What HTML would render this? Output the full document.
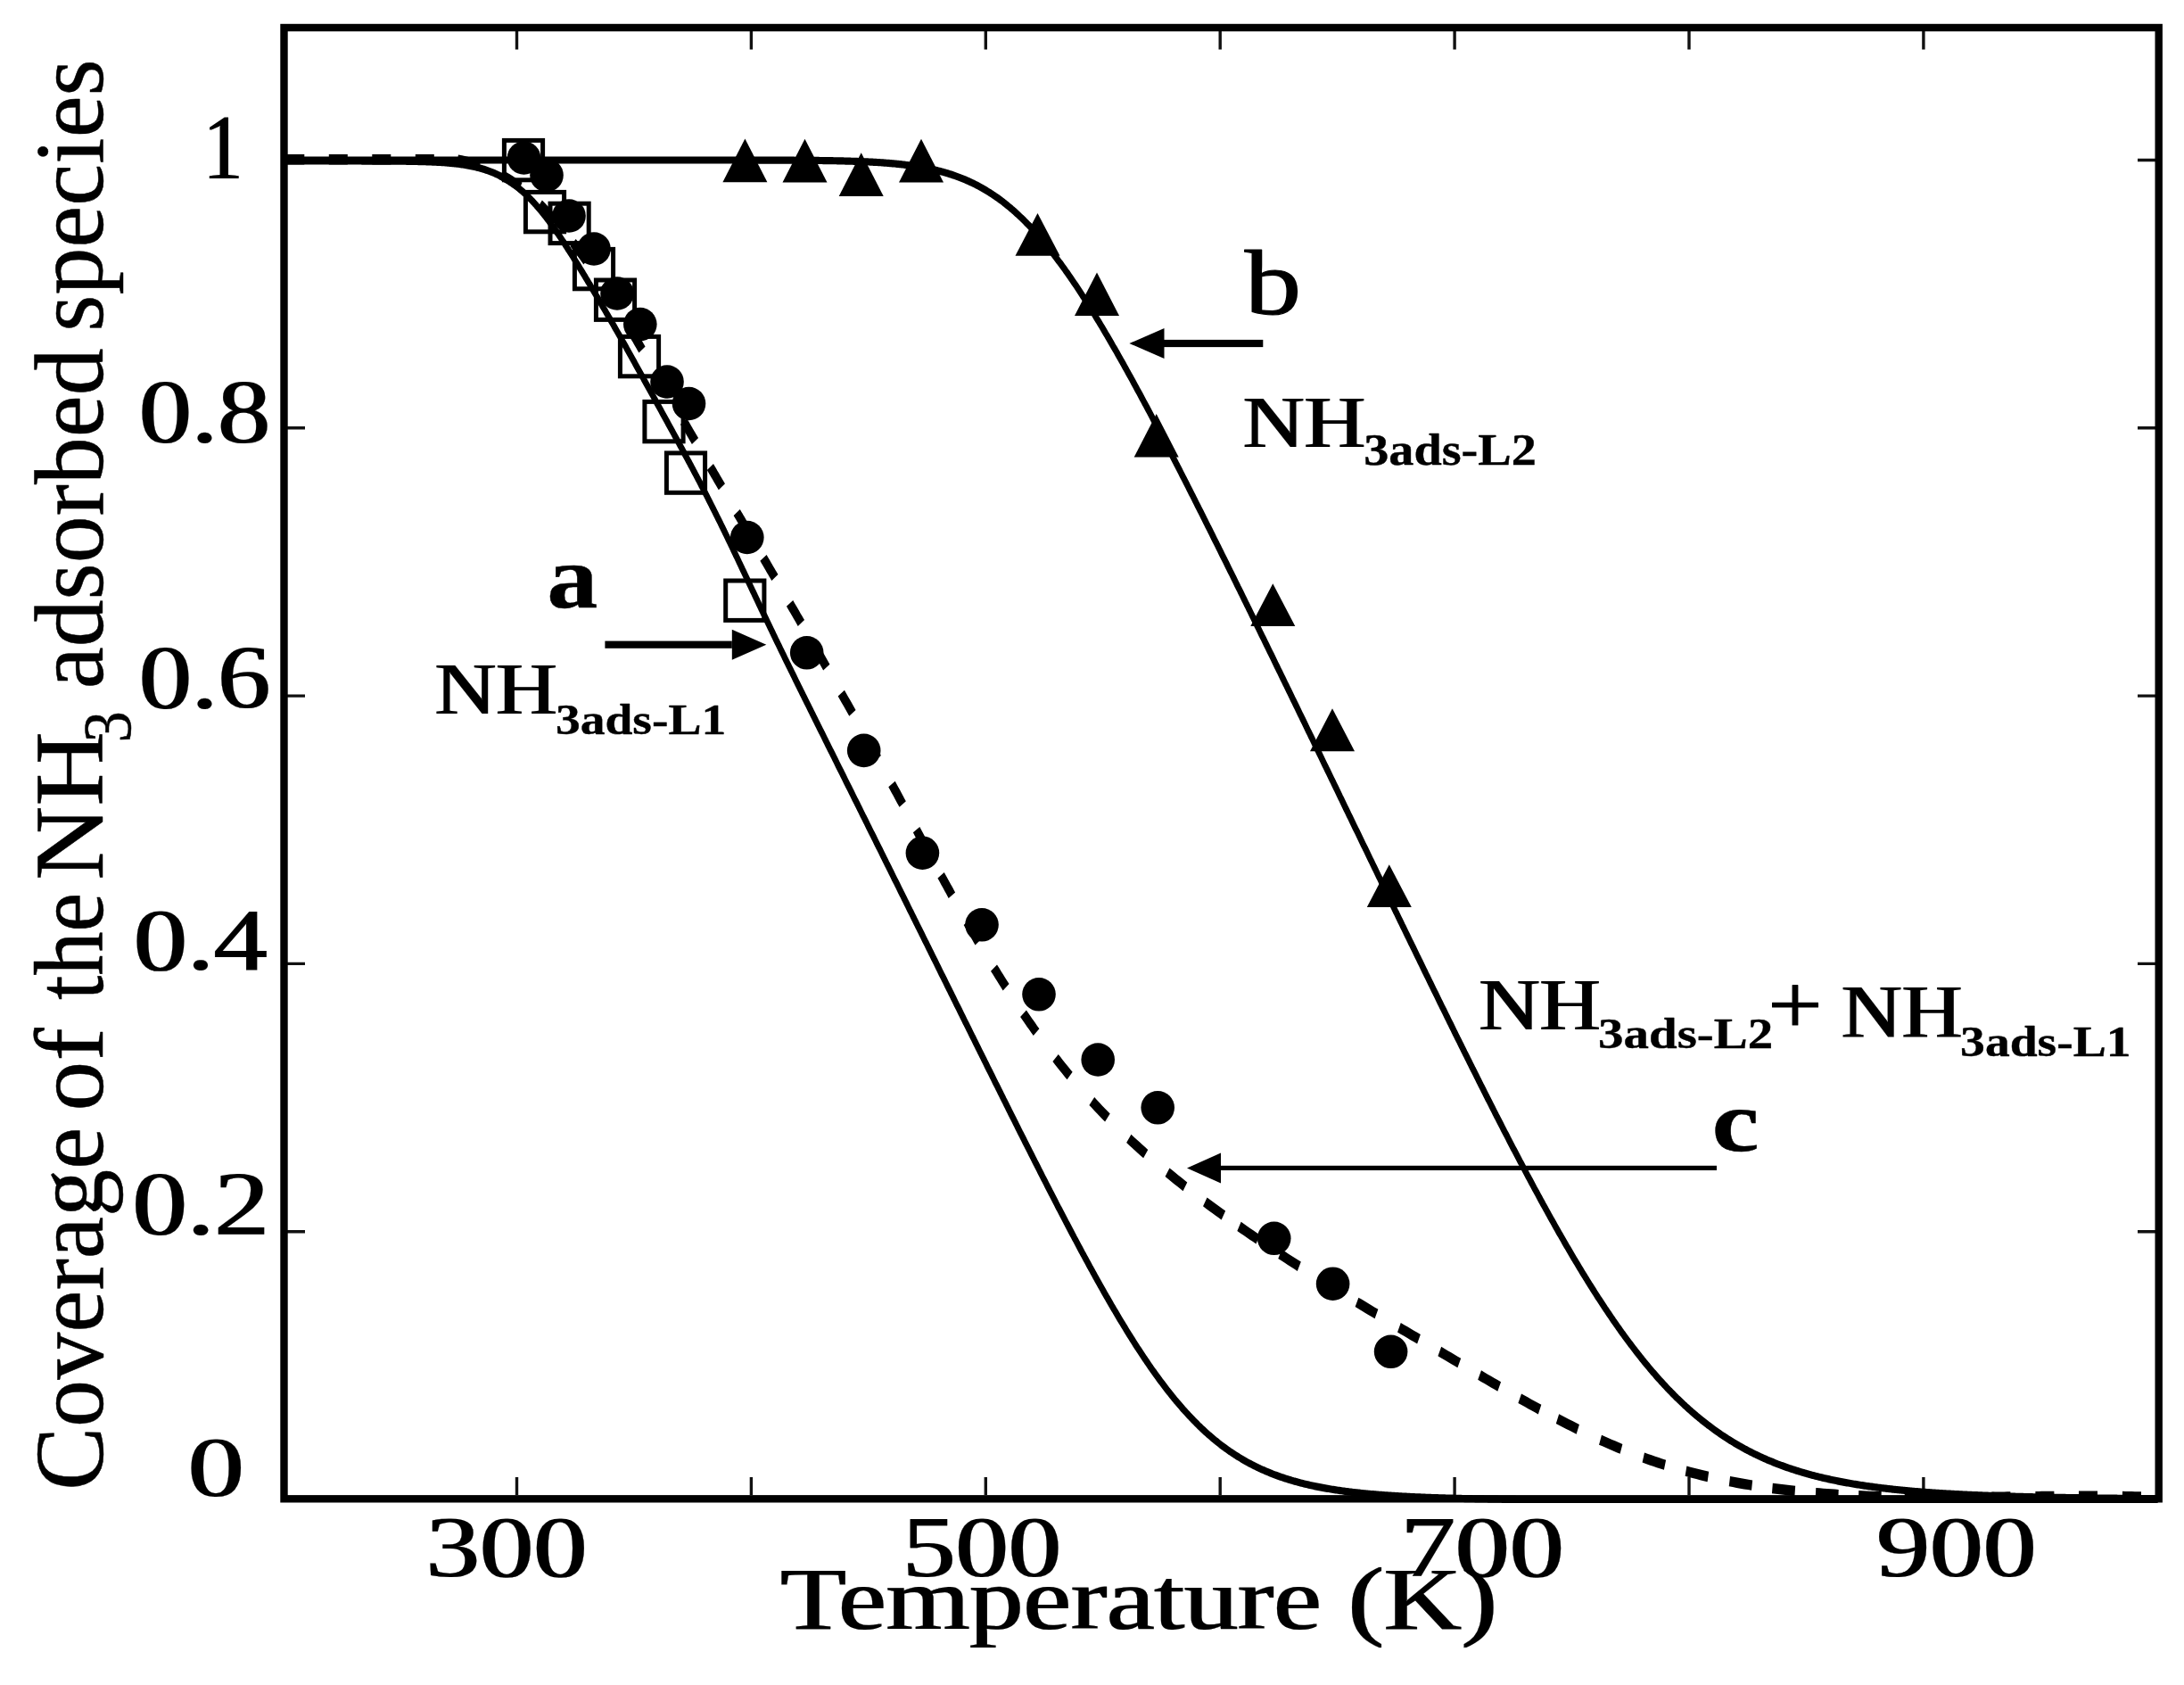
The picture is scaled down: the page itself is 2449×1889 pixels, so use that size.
<!DOCTYPE html>
<html><head><meta charset="utf-8"><title>Coverage of the NH3 adsorbed species</title>
<style>html,body{margin:0;padding:0;background:#fff}svg{display:block}</style></head>
<body>
<svg width="2449" height="1889" viewBox="0 0 2449 1889" font-family="'Liberation Serif', serif" fill="#000">
<rect width="2449" height="1889" fill="#fff"/>
<defs><clipPath id="fr"><rect x="318" y="30" width="2103" height="1655"/></clipPath><filter id="fh" x="-5%" y="-5%" width="110%" height="110%"><feMorphology operator="dilate" radius="1 0"/></filter></defs>
<path d="M579.5,35 v20.5 M579.5,1676 v-20 M842.4,35 v20.5 M842.4,1676 v-20 M1105.3,35 v20.5 M1105.3,1676 v-20 M1368.2,35 v20.5 M1368.2,1676 v-20 M1631.1,35 v20.5 M1631.1,1676 v-20 M1894.0,35 v20.5 M1894.0,1676 v-20 M2156.9,35 v20.5 M2156.9,1676 v-20 M322,1380.7 h20 M2417,1380.7 h-20 M322,1080.4 h20 M2417,1080.4 h-20 M322,780.1 h20 M2417,780.1 h-20 M322,479.8 h20 M2417,479.8 h-20 M322,179.5 h20 M2417,179.5 h-20" stroke="#111" stroke-width="3.4" fill="none"/>
<g clip-path="url(#fr)"><g transform="scale(1,1.28)" fill="none" stroke="#000" stroke-linejoin="round">
<path d="M317.9,141.02 L319.2,141.02 L320.6,141.02 L321.9,141.02 L323.2,141.02 L324.5,141.02 L325.8,141.02 L327.1,141.02 L328.5,141.02 L329.8,141.02 L331.1,141.02 L332.4,141.02 L333.7,141.02 L335.0,141.02 L336.3,141.02 L337.7,141.02 L339.0,141.02 L340.3,141.02 L341.6,141.02 L342.9,141.02 L344.2,141.02 L345.5,141.02 L346.9,141.02 L348.2,141.02 L349.5,141.02 L350.8,141.02 L352.1,141.02 L353.4,141.02 L354.8,141.02 L356.1,141.02 L357.4,141.02 L358.7,141.02 L360.0,141.02 L361.3,141.02 L362.6,141.02 L364.0,141.02 L365.3,141.02 L366.6,141.02 L367.9,141.02 L369.2,141.02 L370.5,141.02 L371.8,141.02 L373.2,141.02 L374.5,141.02 L375.8,141.02 L377.1,141.02 L378.4,141.02 L379.7,141.02 L381.1,141.02 L382.4,141.02 L383.7,141.02 L385.0,141.02 L386.3,141.02 L387.6,141.02 L388.9,141.02 L390.3,141.02 L391.6,141.02 L392.9,141.03 L394.2,141.03 L395.5,141.03 L396.8,141.03 L398.1,141.03 L399.5,141.03 L400.8,141.03 L402.1,141.03 L403.4,141.03 L404.7,141.03 L406.0,141.04 L407.4,141.04 L408.7,141.04 L410.0,141.04 L411.3,141.04 L412.6,141.04 L413.9,141.05 L415.2,141.05 L416.6,141.05 L417.9,141.05 L419.2,141.05 L420.5,141.06 L421.8,141.06 L423.1,141.06 L424.4,141.07 L425.8,141.07 L427.1,141.07 L428.4,141.08 L429.7,141.08 L431.0,141.09 L432.3,141.09 L433.7,141.10 L435.0,141.10 L436.3,141.11 L437.6,141.11 L438.9,141.12 L440.2,141.13 L441.5,141.13 L442.9,141.14 L444.2,141.15 L445.5,141.16 L446.8,141.17 L448.1,141.17 L449.4,141.18 L450.7,141.20 L452.1,141.21 L453.4,141.22 L454.7,141.23 L456.0,141.24 L457.3,141.26 L458.6,141.27 L459.9,141.29 L461.3,141.31 L462.6,141.32 L463.9,141.34 L465.2,141.36 L466.5,141.38 L467.8,141.40 L469.2,141.43 L470.5,141.45 L471.8,141.48 L473.1,141.51 L474.4,141.53 L475.7,141.56 L477.0,141.60 L478.4,141.63 L479.7,141.66 L481.0,141.70 L482.3,141.74 L483.6,141.78 L484.9,141.83 L486.2,141.87 L487.6,141.92 L488.9,141.97 L490.2,142.02 L491.5,142.08 L492.8,142.14 L494.1,142.20 L495.4,142.27 L496.8,142.33 L498.1,142.40 L499.4,142.48 L500.7,142.56 L502.0,142.64 L503.3,142.73 L504.6,142.82 L506.0,142.91 L507.3,143.01 L508.6,143.12 L509.9,143.23 L511.2,143.34 L512.5,143.46 L513.8,143.59 L515.1,143.72 L516.5,143.86 L517.8,144.00 L519.1,144.15 L520.4,144.31 L521.7,144.48 L523.0,144.65 L524.3,144.83 L525.6,145.01 L527.0,145.21 L528.3,145.41 L529.6,145.63 L530.9,145.85 L532.2,146.08 L533.5,146.32 L534.8,146.57 L536.1,146.83 L537.5,147.10 L538.8,147.38 L540.1,147.68 L541.4,147.98 L542.7,148.30 L544.0,148.63 L545.3,148.97 L546.6,149.32 L547.9,149.69 L549.2,150.07 L550.5,150.47 L551.9,150.88 L553.2,151.30 L554.5,151.74 L555.8,152.20 L557.1,152.67 L558.4,153.15 L559.7,153.66 L561.0,154.18 L562.3,154.71 L563.6,155.27 L564.9,155.84 L566.2,156.42 L567.5,157.03 L568.8,157.66 L570.1,158.30 L571.4,158.96 L572.7,159.64 L574.0,160.34 L575.3,161.06 L576.6,161.80 L577.9,162.56 L579.2,163.34 L580.5,164.14 L581.8,164.96 L583.1,165.80 L584.4,166.66 L585.7,167.54 L587.0,168.44 L588.3,169.36 L589.6,170.30 L590.9,171.26 L592.1,172.24 L593.4,173.25 L594.7,174.27 L596.0,175.31 L597.3,176.38 L598.6,177.46 L599.9,178.57 L601.2,179.69 L602.4,180.84 L603.7,182.00 L605.0,183.18 L606.3,184.39 L607.6,185.61 L608.8,186.85 L610.1,188.11 L611.4,189.38 L612.7,190.68 L614.0,191.99 L615.3,193.32 L616.5,194.67 L617.8,196.04 L619.1,197.42 L620.4,198.82 L621.7,200.24 L622.9,201.67 L624.2,203.12 L625.5,204.58 L626.8,206.06 L628.1,207.55 L629.4,209.06 L630.7,210.58 L632.0,212.11 L633.3,213.66 L634.5,215.22 L635.8,216.80 L637.1,218.39 L638.5,219.99 L639.8,221.60 L641.1,223.23 L642.4,224.86 L643.7,226.51 L645.0,228.17 L646.3,229.84 L647.7,231.52 L649.0,233.21 L650.3,234.90 L651.6,236.61 L653.0,238.33 L654.3,240.06 L655.7,241.80 L657.0,243.54 L658.4,245.29 L659.7,247.06 L661.1,248.83 L662.4,250.60 L663.8,252.39 L665.1,254.18 L666.5,255.98 L667.9,257.78 L669.2,259.60 L670.6,261.41 L672.0,263.24 L673.4,265.07 L674.7,266.91 L676.1,268.75 L677.5,270.60 L678.9,272.45 L680.2,274.31 L681.6,276.18 L683.0,278.05 L684.4,279.92 L685.8,281.80 L687.2,283.68 L688.5,285.57 L689.9,287.46 L691.3,289.36 L692.7,291.26 L694.1,293.16 L695.5,295.07 L696.8,296.98 L698.2,298.89 L699.6,300.81 L701.0,302.73 L702.4,304.66 L703.7,306.59 L705.1,308.52 L706.5,310.45 L707.9,312.39 L709.3,314.33 L710.7,316.27 L712.0,318.21 L713.4,320.16 L714.8,322.11 L716.2,324.07 L717.6,326.02 L719.0,327.98 L720.4,329.94 L721.7,331.90 L723.1,333.86 L724.5,335.83 L725.9,337.79 L727.3,339.76 L728.7,341.74 L730.1,343.71 L731.5,345.68 L732.9,347.66 L734.3,349.64 L735.6,351.62 L737.0,353.60 L738.4,355.58 L739.8,357.57 L741.2,359.55 L742.6,361.54 L744.0,363.53 L745.4,365.52 L746.8,367.51 L748.2,369.51 L749.6,371.50 L751.0,373.49 L752.4,375.49 L753.8,377.49 L755.2,379.49 L756.6,381.49 L758.0,383.49 L759.4,385.49 L760.8,387.49 L762.2,389.50 L763.6,391.50 L765.0,393.51 L766.4,395.52 L767.7,397.52 L769.1,399.53 L770.5,401.54 L771.9,403.55 L773.3,405.57 L774.6,407.58 L776.0,409.59 L777.4,411.60 L778.7,413.62 L780.1,415.63 L781.5,417.65 L782.8,419.67 L784.2,421.69 L785.5,423.70 L786.8,425.72 L788.2,427.74 L789.5,429.76 L790.8,431.78 L792.2,433.81 L793.5,435.83 L794.8,437.85 L796.1,439.87 L797.4,441.90 L798.7,443.92 L800.0,445.95 L801.3,447.97 L802.6,450.00 L803.9,452.03 L805.2,454.05 L806.5,456.08 L807.8,458.11 L809.0,460.14 L810.3,462.17 L811.6,464.20 L812.8,466.23 L814.1,468.26 L815.4,470.29 L816.6,472.32 L817.9,474.36 L819.1,476.39 L820.4,478.42 L821.6,480.46 L822.8,482.49 L824.1,484.53 L825.3,486.56 L826.6,488.60 L827.8,490.63 L829.0,492.67 L830.3,494.70 L831.5,496.74 L832.7,498.78 L834.0,500.82 L835.2,502.86 L836.4,504.89 L837.7,506.93 L838.9,508.97 L840.1,511.01 L841.4,513.05 L842.6,515.09 L843.8,517.13 L845.1,519.17 L846.3,521.22 L847.5,523.26 L848.8,525.30 L850.0,527.34 L851.2,529.39 L852.5,531.43 L853.7,533.47 L855.0,535.52 L856.2,537.56 L857.5,539.61 L858.7,541.65 L860.0,543.70 L861.2,545.74 L862.5,547.79 L863.7,549.84 L865.0,551.88 L866.3,553.93 L867.5,555.98 L868.8,558.02 L870.0,560.07 L871.3,562.12 L872.6,564.17 L873.9,566.22 L875.1,568.27 L876.4,570.32 L877.7,572.36 L879.0,574.41 L880.2,576.47 L881.5,578.52 L882.8,580.57 L884.1,582.62 L885.4,584.67 L886.7,586.72 L888.0,588.77 L889.3,590.83 L890.6,592.88 L891.8,594.93 L893.1,596.98 L894.4,599.04 L895.7,601.09 L897.0,603.14 L898.3,605.20 L899.6,607.25 L900.9,609.31 L902.2,611.36 L903.5,613.42 L904.8,615.47 L906.2,617.53 L907.5,619.59 L908.8,621.64 L910.1,623.70 L911.4,625.76 L912.7,627.81 L914.0,629.87 L915.3,631.93 L916.6,633.98 L917.9,636.04 L919.2,638.10 L920.5,640.16 L921.9,642.22 L923.2,644.28 L924.5,646.34 L925.8,648.40 L927.1,650.46 L928.4,652.52 L929.7,654.58 L931.0,656.64 L932.4,658.70 L933.7,660.76 L935.0,662.82 L936.3,664.88 L937.6,666.94 L938.9,669.01 L940.2,671.07 L941.5,673.13 L942.9,675.19 L944.2,677.26 L945.5,679.32 L946.8,681.38 L948.1,683.45 L949.4,685.51 L950.7,687.57 L952.1,689.64 L953.4,691.70 L954.7,693.77 L956.0,695.83 L957.3,697.90 L958.6,699.96 L960.0,702.03 L961.3,704.10 L962.6,706.16 L963.9,708.23 L965.2,710.29 L966.5,712.36 L967.8,714.43 L969.2,716.49 L970.5,718.56 L971.8,720.63 L973.1,722.70 L974.4,724.77 L975.7,726.83 L977.0,728.90 L978.4,730.97 L979.7,733.04 L981.0,735.11 L982.3,737.18 L983.6,739.25 L984.9,741.32 L986.3,743.39 L987.6,745.46 L988.9,747.53 L990.2,749.60 L991.5,751.67 L992.8,753.74 L994.1,755.81 L995.5,757.88 L996.8,759.95 L998.1,762.02 L999.4,764.09 L1000.7,766.16 L1002.0,768.24 L1003.3,770.31 L1004.7,772.38 L1006.0,774.45 L1007.3,776.52 L1008.6,778.60 L1009.9,780.67 L1011.2,782.74 L1012.6,784.82 L1013.9,786.89 L1015.2,788.96 L1016.5,791.04 L1017.8,793.11 L1019.1,795.18 L1020.4,797.26 L1021.8,799.33 L1023.1,801.41 L1024.4,803.48 L1025.7,805.55 L1027.0,807.63 L1028.3,809.70 L1029.6,811.78 L1031.0,813.85 L1032.3,815.93 L1033.6,818.00 L1034.9,820.08 L1036.2,822.15 L1037.5,824.23 L1038.9,826.30 L1040.2,828.38 L1041.5,830.45 L1042.8,832.53 L1044.1,834.60 L1045.4,836.68 L1046.7,838.76 L1048.1,840.83 L1049.4,842.91 L1050.7,844.98 L1052.0,847.06 L1053.3,849.13 L1054.6,851.21 L1055.9,853.28 L1057.3,855.36 L1058.6,857.44 L1059.9,859.51 L1061.2,861.59 L1062.5,863.66 L1063.8,865.74 L1065.2,867.81 L1066.5,869.89 L1067.8,871.96 L1069.1,874.04 L1070.4,876.11 L1071.7,878.19 L1073.0,880.26 L1074.4,882.34 L1075.7,884.41 L1077.0,886.49 L1078.3,888.56 L1079.6,890.64 L1080.9,892.71 L1082.2,894.79 L1083.6,896.86 L1084.9,898.93 L1086.2,901.01 L1087.5,903.08 L1088.8,905.15 L1090.1,907.23 L1091.5,909.30 L1092.8,911.37 L1094.1,913.44 L1095.4,915.51 L1096.7,917.58 L1098.0,919.65 L1099.3,921.73 L1100.7,923.80 L1102.0,925.87 L1103.3,927.93 L1104.6,930.00 L1105.9,932.07 L1107.2,934.14 L1108.5,936.21 L1109.9,938.27 L1111.2,940.34 L1112.5,942.41 L1113.8,944.47 L1115.1,946.54 L1116.4,948.60 L1117.8,950.67 L1119.1,952.73 L1120.4,954.79 L1121.7,956.85 L1123.0,958.91 L1124.3,960.97 L1125.6,963.03 L1127.0,965.09 L1128.3,967.15 L1129.6,969.21 L1130.9,971.26 L1132.2,973.32 L1133.5,975.37 L1134.8,977.43 L1136.2,979.48 L1137.5,981.53 L1138.8,983.58 L1140.1,985.63 L1141.4,987.68 L1142.7,989.73 L1144.0,991.77 L1145.4,993.82 L1146.7,995.86 L1148.0,997.90 L1149.3,999.95 L1150.6,1001.99 L1151.9,1004.02 L1153.3,1006.06 L1154.6,1008.10 L1155.9,1010.13 L1157.2,1012.16 L1158.5,1014.19 L1159.8,1016.22 L1161.1,1018.25 L1162.5,1020.27 L1163.8,1022.30 L1165.1,1024.32 L1166.4,1026.34 L1167.7,1028.36 L1169.0,1030.38 L1170.3,1032.39 L1171.7,1034.40 L1173.0,1036.41 L1174.3,1038.42 L1175.6,1040.43 L1176.9,1042.43 L1178.2,1044.43 L1179.6,1046.43 L1180.9,1048.42 L1182.2,1050.42 L1183.5,1052.41 L1184.8,1054.40 L1186.1,1056.38 L1187.4,1058.36 L1188.8,1060.34 L1190.1,1062.32 L1191.4,1064.29 L1192.7,1066.27 L1194.0,1068.23 L1195.3,1070.20 L1196.7,1072.16 L1198.0,1074.12 L1199.3,1076.07 L1200.6,1078.02 L1201.9,1079.97 L1203.2,1081.91 L1204.5,1083.85 L1205.9,1085.79 L1207.2,1087.72 L1208.5,1089.65 L1209.8,1091.57 L1211.1,1093.49 L1212.4,1095.41 L1213.7,1097.32 L1215.1,1099.22 L1216.4,1101.13 L1217.7,1103.02 L1219.0,1104.92 L1220.3,1106.80 L1221.6,1108.69 L1222.9,1110.56 L1224.3,1112.44 L1225.6,1114.31 L1226.9,1116.17 L1228.2,1118.02 L1229.5,1119.88 L1230.8,1121.72 L1232.2,1123.56 L1233.5,1125.40 L1234.8,1127.23 L1236.1,1129.05 L1237.4,1130.86 L1238.7,1132.67 L1240.0,1134.48 L1241.4,1136.27 L1242.7,1138.07 L1244.0,1139.85 L1245.3,1141.63 L1246.6,1143.40 L1247.9,1145.16 L1249.2,1146.92 L1250.6,1148.67 L1251.9,1150.41 L1253.2,1152.14 L1254.5,1153.87 L1255.8,1155.59 L1257.1,1157.30 L1258.5,1159.00 L1259.8,1160.70 L1261.1,1162.39 L1262.4,1164.07 L1263.7,1165.74 L1265.0,1167.40 L1266.3,1169.05 L1267.7,1170.70 L1269.0,1172.33 L1270.3,1173.96 L1271.6,1175.58 L1272.9,1177.19 L1274.2,1178.79 L1275.5,1180.38 L1276.9,1181.96 L1278.2,1183.54 L1279.5,1185.10 L1280.8,1186.65 L1282.1,1188.20 L1283.4,1189.73 L1284.8,1191.25 L1286.1,1192.77 L1287.4,1194.27 L1288.7,1195.76 L1290.0,1197.24 L1291.3,1198.72 L1292.6,1200.18 L1294.0,1201.63 L1295.3,1203.07 L1296.6,1204.50 L1297.9,1205.92 L1299.2,1207.32 L1300.5,1208.72 L1301.8,1210.11 L1303.2,1211.48 L1304.5,1212.84 L1305.8,1214.20 L1307.1,1215.54 L1308.4,1216.87 L1309.7,1218.18 L1311.1,1219.49 L1312.4,1220.79 L1313.7,1222.07 L1315.0,1223.34 L1316.3,1224.60 L1317.6,1225.85 L1318.9,1227.09 L1320.3,1228.31 L1321.6,1229.52 L1322.9,1230.72 L1324.2,1231.91 L1325.5,1233.09 L1326.8,1234.26 L1328.2,1235.41 L1329.5,1236.55 L1330.8,1237.68 L1332.1,1238.80 L1333.4,1239.91 L1334.7,1241.00 L1336.0,1242.08 L1337.4,1243.15 L1338.7,1244.21 L1340.0,1245.26 L1341.3,1246.29 L1342.6,1247.32 L1343.9,1248.33 L1345.2,1249.33 L1346.6,1250.31 L1347.9,1251.29 L1349.2,1252.25 L1350.5,1253.21 L1351.8,1254.15 L1353.1,1255.08 L1354.4,1256.00 L1355.8,1256.90 L1357.1,1257.80 L1358.4,1258.68 L1359.7,1259.55 L1361.0,1260.41 L1362.3,1261.26 L1363.7,1262.10 L1365.0,1262.93 L1366.3,1263.75 L1367.6,1264.55 L1368.9,1265.35 L1370.2,1266.13 L1371.5,1266.90 L1372.9,1267.67 L1374.2,1268.42 L1375.5,1269.16 L1376.8,1269.89 L1378.1,1270.61 L1379.4,1271.32 L1380.8,1272.02 L1382.1,1272.71 L1383.4,1273.39 L1384.7,1274.06 L1386.0,1274.72 L1387.3,1275.37 L1388.6,1276.01 L1390.0,1276.65 L1391.3,1277.27 L1392.6,1277.88 L1393.9,1278.48 L1395.2,1279.08 L1396.5,1279.66 L1397.8,1280.24 L1399.2,1280.81 L1400.5,1281.37 L1401.8,1281.92 L1403.1,1282.46 L1404.4,1282.99 L1405.7,1283.52 L1407.1,1284.03 L1408.4,1284.54 L1409.7,1285.04 L1411.0,1285.54 L1412.3,1286.02 L1413.6,1286.50 L1414.9,1286.97 L1416.3,1287.43 L1417.6,1287.88 L1418.9,1288.33 L1420.2,1288.77 L1421.5,1289.20 L1422.8,1289.62 L1424.1,1290.04 L1425.5,1290.45 L1426.8,1290.86 L1428.1,1291.25 L1429.4,1291.65 L1430.7,1292.03 L1432.0,1292.41 L1433.3,1292.78 L1434.7,1293.15 L1436.0,1293.50 L1437.3,1293.86 L1438.6,1294.20 L1439.9,1294.55 L1441.2,1294.88 L1442.6,1295.21 L1443.9,1295.54 L1445.2,1295.85 L1446.5,1296.17 L1447.8,1296.48 L1449.1,1296.78 L1450.4,1297.08 L1451.8,1297.37 L1453.1,1297.66 L1454.4,1297.94 L1455.7,1298.22 L1457.0,1298.49 L1458.3,1298.76 L1459.7,1299.02 L1461.0,1299.28 L1462.3,1299.53 L1463.6,1299.78 L1464.9,1300.03 L1466.2,1300.27 L1467.5,1300.51 L1468.9,1300.74 L1470.2,1300.97 L1471.5,1301.19 L1472.8,1301.41 L1474.1,1301.63 L1475.4,1301.84 L1476.7,1302.05 L1478.1,1302.26 L1479.4,1302.46 L1480.7,1302.66 L1482.0,1302.85 L1483.3,1303.05 L1484.6,1303.23 L1485.9,1303.42 L1487.3,1303.60 L1488.6,1303.78 L1489.9,1303.95 L1491.2,1304.13 L1492.5,1304.30 L1493.8,1304.46 L1495.2,1304.63 L1496.5,1304.79 L1497.8,1304.94 L1499.1,1305.10 L1500.4,1305.25 L1501.7,1305.40 L1503.0,1305.55 L1504.4,1305.69 L1505.7,1305.83 L1507.0,1305.97 L1508.3,1306.11 L1509.6,1306.24 L1510.9,1306.37 L1512.2,1306.50 L1513.6,1306.63 L1514.9,1306.76 L1516.2,1306.88 L1517.5,1307.00 L1518.8,1307.12 L1520.1,1307.23 L1521.5,1307.35 L1522.8,1307.46 L1524.1,1307.57 L1525.4,1307.68 L1526.7,1307.79 L1528.0,1307.89 L1529.3,1307.99 L1530.7,1308.09 L1532.0,1308.19 L1533.3,1308.29 L1534.6,1308.39 L1535.9,1308.48 L1537.2,1308.57 L1538.6,1308.66 L1539.9,1308.75 L1541.2,1308.84 L1542.5,1308.93 L1543.8,1309.01 L1545.1,1309.10 L1546.4,1309.18 L1547.8,1309.26 L1549.1,1309.34 L1550.4,1309.41 L1551.7,1309.49 L1553.0,1309.56 L1554.3,1309.64 L1555.6,1309.71 L1557.0,1309.78 L1558.3,1309.85 L1559.6,1309.92 L1560.9,1309.99 L1562.2,1310.05 L1563.5,1310.12 L1564.8,1310.18 L1566.2,1310.24 L1567.5,1310.31 L1568.8,1310.37 L1570.1,1310.43 L1571.4,1310.49 L1572.7,1310.54 L1574.1,1310.60 L1575.4,1310.66 L1576.7,1310.71 L1578.0,1310.76 L1579.3,1310.82 L1580.6,1310.87 L1581.9,1310.92 L1583.3,1310.97 L1584.6,1311.02 L1585.9,1311.07 L1587.2,1311.11 L1588.5,1311.16 L1589.8,1311.21 L1591.2,1311.25 L1592.5,1311.30 L1593.8,1311.34 L1595.1,1311.38 L1596.4,1311.43 L1597.7,1311.47 L1599.0,1311.51 L1600.4,1311.55 L1601.7,1311.59 L1603.0,1311.63 L1604.3,1311.66 L1605.6,1311.70 L1606.9,1311.74 L1608.2,1311.78 L1609.6,1311.81 L1610.9,1311.85 L1612.2,1311.88 L1613.5,1311.91 L1614.8,1311.95 L1616.1,1311.98 L1617.4,1312.01 L1618.8,1312.04 L1620.1,1312.08 L1621.4,1312.11 L1622.7,1312.14 L1624.0,1312.17 L1625.3,1312.19 L1626.7,1312.22 L1628.0,1312.25 L1629.3,1312.28 L1630.6,1312.31 L1631.9,1312.33 L1633.2,1312.36 L1634.5,1312.39 L1635.9,1312.41 L1637.2,1312.44 L1638.5,1312.46 L1639.8,1312.48 L1641.1,1312.51 L1642.4,1312.53 L1643.8,1312.56 L1645.1,1312.58 L1646.4,1312.60 L1647.7,1312.62 L1649.0,1312.64 L1650.3,1312.67 L1651.6,1312.69 L1653.0,1312.71 L1654.3,1312.73 L1655.6,1312.75 L1656.9,1312.77 L1658.2,1312.79 L1659.5,1312.80 L1660.8,1312.82 L1662.2,1312.84 L1663.5,1312.86 L1664.8,1312.88 L1666.1,1312.90 L1667.4,1312.91 L1668.7,1312.93 L1670.1,1312.95 L1671.4,1312.96 L1672.7,1312.98 L1674.0,1312.99 L1675.3,1313.01 L1676.6,1313.03 L1677.9,1313.04 L1679.3,1313.06 L1680.6,1313.07 L1681.9,1313.08 L1683.2,1313.10 L1684.5,1313.11 L1685.8,1313.13 L1687.1,1313.14 L1688.5,1313.15 L1689.8,1313.17 L1691.1,1313.18 L1692.4,1313.19 L1693.7,1313.20 L1695.0,1313.22 L1696.3,1313.23 L1697.7,1313.24 L1699.0,1313.25 L1700.3,1313.26 L1701.6,1313.28 L1702.9,1313.29 L1704.2,1313.30 L1705.6,1313.31 L1706.9,1313.32 L1708.2,1313.33 L1709.5,1313.34 L1710.8,1313.35 L1712.1,1313.36 L1713.4,1313.37 L1714.8,1313.38 L1716.1,1313.39 L1717.4,1313.40 L1718.7,1313.41 L1720.0,1313.42 L1721.3,1313.43 L1722.7,1313.44 L1724.0,1313.44 L1725.3,1313.45 L1726.6,1313.46 L1727.9,1313.47 L1729.2,1313.48 L1730.5,1313.49 L1731.9,1313.49 L1733.2,1313.50 L1734.5,1313.51 L1735.8,1313.52 L1737.1,1313.53 L1738.4,1313.53 L1739.7,1313.54 L1741.1,1313.55 L1742.4,1313.55 L1743.7,1313.56 L1745.0,1313.57 L1746.3,1313.57 L1747.6,1313.58 L1748.9,1313.59 L1750.3,1313.59 L1751.6,1313.60 L1752.9,1313.61 L1754.2,1313.61 L1755.5,1313.62 L1756.8,1313.63 L1758.2,1313.63 L1759.5,1313.64 L1760.8,1313.64 L1762.1,1313.65 L1763.4,1313.65 L1764.7,1313.66 L1766.0,1313.66 L1767.4,1313.67 L1768.7,1313.68 L1770.0,1313.68 L1771.3,1313.69 L1772.6,1313.69 L1773.9,1313.70 L1775.2,1313.70 L1776.6,1313.71 L1777.9,1313.71 L1779.2,1313.71 L1780.5,1313.72 L1781.8,1313.72 L1783.1,1313.73 L1784.5,1313.73 L1785.8,1313.74 L1787.1,1313.74 L1788.4,1313.75 L1789.7,1313.75 L1791.0,1313.75 L1792.3,1313.76 L1793.7,1313.76 L1795.0,1313.77 L1796.3,1313.77 L1797.6,1313.77 L1798.9,1313.78 L1800.2,1313.78 L1801.6,1313.78 L1802.9,1313.79 L1804.2,1313.79 L1805.5,1313.80 L1806.8,1313.80 L1808.1,1313.80 L1809.4,1313.81 L1810.8,1313.81 L1812.1,1313.81 L1813.4,1313.82 L1814.7,1313.82 L1816.0,1313.82 L1817.3,1313.82 L1818.6,1313.83 L1820.0,1313.83 L1821.3,1313.83 L1822.6,1313.84 L1823.9,1313.84 L1825.2,1313.84 L1826.5,1313.84 L1827.8,1313.85 L1829.2,1313.85 L1830.5,1313.85 L1831.8,1313.86 L1833.1,1313.86 L1834.4,1313.86 L1835.7,1313.86 L1837.1,1313.87 L1838.4,1313.87 L1839.7,1313.87 L1841.0,1313.87 L1842.3,1313.88 L1843.6,1313.88 L1844.9,1313.88 L1846.3,1313.88 L1847.6,1313.88 L1848.9,1313.89 L1850.2,1313.89 L1851.5,1313.89 L1852.8,1313.89 L1854.2,1313.90 L1855.5,1313.90 L1856.8,1313.90 L1858.1,1313.90 L1859.4,1313.90 L1860.7,1313.91 L1862.0,1313.91 L1863.4,1313.91 L1864.7,1313.91 L1866.0,1313.91 L1867.3,1313.91 L1868.6,1313.92 L1869.9,1313.92 L1871.2,1313.92 L1872.6,1313.92 L1873.9,1313.92 L1875.2,1313.93 L1876.5,1313.93 L1877.8,1313.93 L1879.1,1313.93 L1880.4,1313.93 L1881.8,1313.93 L1883.1,1313.93 L1884.4,1313.94 L1885.7,1313.94 L1887.0,1313.94 L1888.3,1313.94 L1889.7,1313.94 L1891.0,1313.94 L1892.3,1313.95 L1893.6,1313.95 L1894.9,1313.95 L1896.2,1313.95 L1897.5,1313.95 L1898.9,1313.95 L1900.2,1313.95 L1901.5,1313.95 L1902.8,1313.96 L1904.1,1313.96 L1905.4,1313.96 L1906.8,1313.96 L1908.1,1313.96 L1909.4,1313.96 L1910.7,1313.96 L1912.0,1313.96 L1913.3,1313.97 L1914.6,1313.97 L1916.0,1313.97 L1917.3,1313.97 L1918.6,1313.97 L1919.9,1313.97 L1921.2,1313.97 L1922.5,1313.97 L1923.8,1313.97 L1925.2,1313.98 L1926.5,1313.98 L1927.8,1313.98 L1929.1,1313.98 L1930.4,1313.98 L1931.7,1313.98 L1933.1,1313.98 L1934.4,1313.98 L1935.7,1313.98 L1937.0,1313.98 L1938.3,1313.98 L1939.6,1313.99 L1940.9,1313.99 L1942.3,1313.99 L1943.6,1313.99 L1944.9,1313.99 L1946.2,1313.99 L1947.5,1313.99 L1948.8,1313.99 L1950.1,1313.99 L1951.5,1313.99 L1952.8,1313.99 L1954.1,1313.99 L1955.4,1314.00 L1956.7,1314.00 L1958.0,1314.00 L1959.3,1314.00 L1960.7,1314.00 L1962.0,1314.00 L1963.3,1314.00 L1964.6,1314.00 L1965.9,1314.00 L1967.2,1314.00 L1968.6,1314.00 L1969.9,1314.00 L1971.2,1314.00 L1972.5,1314.00 L1973.8,1314.01 L1975.1,1314.01 L1976.4,1314.01 L1977.8,1314.01 L1979.1,1314.01 L1980.4,1314.01 L1981.7,1314.01 L1983.0,1314.01 L1984.3,1314.01 L1985.7,1314.01 L1987.0,1314.01 L1988.3,1314.01 L1989.6,1314.01 L1990.9,1314.01 L1992.2,1314.01 L1993.5,1314.01 L1994.9,1314.01 L1996.2,1314.02 L1997.5,1314.02 L1998.8,1314.02 L2000.1,1314.02 L2001.4,1314.02 L2002.7,1314.02 L2004.1,1314.02 L2005.4,1314.02 L2006.7,1314.02 L2008.0,1314.02 L2009.3,1314.02 L2010.6,1314.02 L2011.9,1314.02 L2013.3,1314.02 L2014.6,1314.02 L2015.9,1314.02 L2017.2,1314.02 L2018.5,1314.02 L2019.8,1314.02 L2021.2,1314.02 L2022.5,1314.02 L2023.8,1314.02 L2025.1,1314.03 L2026.4,1314.03 L2027.7,1314.03 L2029.0,1314.03 L2030.4,1314.03 L2031.7,1314.03 L2033.0,1314.03 L2034.3,1314.03 L2035.6,1314.03 L2036.9,1314.03 L2038.2,1314.03 L2039.6,1314.03 L2040.9,1314.03 L2042.2,1314.03 L2043.5,1314.03 L2044.8,1314.03 L2046.1,1314.03 L2047.5,1314.03 L2048.8,1314.03 L2050.1,1314.03 L2051.4,1314.03 L2052.7,1314.03 L2054.0,1314.03 L2055.3,1314.03 L2056.7,1314.03 L2058.0,1314.03 L2059.3,1314.03 L2060.6,1314.03 L2061.9,1314.03 L2063.2,1314.03 L2064.5,1314.04 L2065.9,1314.04 L2067.2,1314.04 L2068.5,1314.04 L2069.8,1314.04 L2071.1,1314.04 L2072.4,1314.04 L2073.8,1314.04 L2075.1,1314.04 L2076.4,1314.04 L2077.7,1314.04 L2079.0,1314.04 L2080.3,1314.04 L2081.6,1314.04 L2083.0,1314.04 L2084.3,1314.04 L2085.6,1314.04 L2086.9,1314.04 L2088.2,1314.04 L2089.5,1314.04 L2090.8,1314.04 L2092.2,1314.04 L2093.5,1314.04 L2094.8,1314.04 L2096.1,1314.04 L2097.4,1314.04 L2098.7,1314.04 L2100.1,1314.04 L2101.4,1314.04 L2102.7,1314.04 L2104.0,1314.04 L2105.3,1314.04 L2106.6,1314.04 L2107.9,1314.04 L2109.3,1314.04 L2110.6,1314.04 L2111.9,1314.04 L2113.2,1314.04 L2114.5,1314.04 L2115.8,1314.04 L2117.2,1314.04 L2118.5,1314.04 L2119.8,1314.04 L2121.1,1314.04 L2122.4,1314.04 L2123.7,1314.05 L2125.0,1314.05 L2126.4,1314.05 L2127.7,1314.05 L2129.0,1314.05 L2130.3,1314.05 L2131.6,1314.05 L2132.9,1314.05 L2134.2,1314.05 L2135.6,1314.05 L2136.9,1314.05 L2138.2,1314.05 L2139.5,1314.05 L2140.8,1314.05 L2142.1,1314.05 L2143.4,1314.05 L2144.8,1314.05 L2146.1,1314.05 L2147.4,1314.05 L2148.7,1314.05 L2150.0,1314.05 L2151.3,1314.05 L2152.7,1314.05 L2154.0,1314.05 L2155.3,1314.05 L2156.6,1314.05 L2157.9,1314.05 L2159.2,1314.05 L2160.5,1314.05 L2161.9,1314.05 L2163.2,1314.05 L2164.5,1314.05 L2165.8,1314.05 L2167.1,1314.05 L2168.4,1314.05 L2169.8,1314.05 L2171.1,1314.05 L2172.4,1314.05 L2173.7,1314.05 L2175.0,1314.05 L2176.3,1314.05 L2177.6,1314.05 L2179.0,1314.05 L2180.3,1314.05 L2181.6,1314.05 L2182.9,1314.05 L2184.2,1314.05 L2185.5,1314.05 L2186.8,1314.05 L2188.2,1314.05 L2189.5,1314.05 L2190.8,1314.05 L2192.1,1314.05 L2193.4,1314.05 L2194.7,1314.05 L2196.0,1314.05 L2197.4,1314.05 L2198.7,1314.05 L2200.0,1314.05 L2201.3,1314.05 L2202.6,1314.05 L2203.9,1314.05 L2205.3,1314.05 L2206.6,1314.05 L2207.9,1314.05 L2209.2,1314.05 L2210.5,1314.05 L2211.8,1314.05 L2213.1,1314.05 L2214.5,1314.05 L2215.8,1314.05 L2217.1,1314.05 L2218.4,1314.05 L2219.7,1314.05 L2221.0,1314.05 L2222.3,1314.05 L2223.7,1314.05 L2225.0,1314.05 L2226.3,1314.05 L2227.6,1314.05 L2228.9,1314.05 L2230.2,1314.05 L2231.6,1314.05 L2232.9,1314.05 L2234.2,1314.05 L2235.5,1314.05 L2236.8,1314.05 L2238.1,1314.05 L2239.4,1314.05 L2240.8,1314.05 L2242.1,1314.06 L2243.4,1314.06 L2244.7,1314.06 L2246.0,1314.06 L2247.3,1314.06 L2248.7,1314.06 L2250.0,1314.06 L2251.3,1314.06 L2252.6,1314.06 L2253.9,1314.06 L2255.2,1314.06 L2256.5,1314.06 L2257.9,1314.06 L2259.2,1314.06 L2260.5,1314.06 L2261.8,1314.06 L2263.1,1314.06 L2264.4,1314.06 L2265.7,1314.06 L2267.1,1314.06 L2268.4,1314.06 L2269.7,1314.06 L2271.0,1314.06 L2272.3,1314.06 L2273.6,1314.06 L2274.9,1314.06 L2276.3,1314.06 L2277.6,1314.06 L2278.9,1314.06 L2280.2,1314.06 L2281.5,1314.06 L2282.8,1314.06 L2284.2,1314.06 L2285.5,1314.06 L2286.8,1314.06 L2288.1,1314.06 L2289.4,1314.06 L2290.7,1314.06 L2292.0,1314.06 L2293.4,1314.06 L2294.7,1314.06 L2296.0,1314.06 L2297.3,1314.06 L2298.6,1314.06 L2299.9,1314.06 L2301.2,1314.06 L2302.6,1314.06 L2303.9,1314.06 L2305.2,1314.06 L2306.5,1314.06 L2307.8,1314.06 L2309.1,1314.06 L2310.5,1314.06 L2311.8,1314.06 L2313.1,1314.06 L2314.4,1314.06 L2315.7,1314.06 L2317.0,1314.06 L2318.3,1314.06 L2319.7,1314.06 L2321.0,1314.06 L2322.3,1314.06 L2323.6,1314.06 L2324.9,1314.06 L2326.2,1314.06 L2327.5,1314.06 L2328.9,1314.06 L2330.2,1314.06 L2331.5,1314.06 L2332.8,1314.06 L2334.1,1314.06 L2335.4,1314.06 L2336.8,1314.06 L2338.1,1314.06 L2339.4,1314.06 L2340.7,1314.06 L2342.0,1314.06 L2343.3,1314.06 L2344.6,1314.06 L2346.0,1314.06 L2347.3,1314.06 L2348.6,1314.06 L2349.9,1314.06 L2351.2,1314.06 L2352.5,1314.06 L2353.8,1314.06 L2355.2,1314.06 L2356.5,1314.06 L2357.8,1314.06 L2359.1,1314.06 L2360.4,1314.06 L2361.7,1314.06 L2363.1,1314.06 L2364.4,1314.06 L2365.7,1314.06 L2367.0,1314.06 L2368.3,1314.06 L2369.6,1314.06 L2370.9,1314.06 L2372.3,1314.06 L2373.6,1314.06 L2374.9,1314.06 L2376.2,1314.06 L2377.5,1314.06 L2378.8,1314.06 L2380.1,1314.06 L2381.5,1314.06 L2382.8,1314.06 L2384.1,1314.06 L2385.4,1314.06 L2386.7,1314.06 L2388.0,1314.06 L2389.4,1314.06 L2390.7,1314.06 L2392.0,1314.06 L2393.3,1314.06 L2394.6,1314.06 L2395.9,1314.06 L2397.2,1314.06 L2398.6,1314.06 L2399.9,1314.06 L2401.2,1314.06 L2402.5,1314.06 L2403.8,1314.06 L2405.1,1314.06 L2406.4,1314.06 L2407.8,1314.06 L2409.1,1314.06 L2410.4,1314.06 L2411.7,1314.06 L2413.0,1314.06 L2414.3,1314.06 L2415.7,1314.06 L2417.0,1314.06 L2418.3,1314.06 L2419.6,1314.06" stroke-width="6.4"/>
<path d="M318.2,140.23 L319.5,140.23 L320.9,140.23 L322.2,140.23 L323.5,140.23 L324.8,140.23 L326.1,140.23 L327.4,140.23 L328.8,140.23 L330.1,140.23 L331.4,140.23 L332.7,140.23 L334.0,140.23 L335.3,140.23 L336.6,140.23 L338.0,140.23 L339.3,140.23 L340.6,140.23 L341.9,140.23 L343.2,140.23 L344.5,140.23 L345.8,140.23 L347.2,140.23 L348.5,140.23 L349.8,140.23 L351.1,140.23 L352.4,140.23 L353.7,140.23 L355.1,140.23 L356.4,140.23 L357.7,140.23 L359.0,140.23 L360.3,140.23 L361.6,140.23 L362.9,140.23 L364.3,140.23 L365.6,140.23 L366.9,140.23 L368.2,140.23 L369.5,140.23 L370.8,140.23 L372.1,140.23 L373.5,140.23 L374.8,140.23 L376.1,140.23 L377.4,140.23 L378.7,140.23 L380.0,140.23 L381.4,140.23 L382.7,140.23 L384.0,140.23 L385.3,140.23 L386.6,140.23 L387.9,140.23 L389.2,140.23 L390.6,140.23 L391.9,140.23 L393.2,140.23 L394.5,140.23 L395.8,140.23 L397.1,140.23 L398.4,140.23 L399.8,140.23 L401.1,140.23 L402.4,140.23 L403.7,140.23 L405.0,140.23 L406.3,140.23 L407.7,140.23 L409.0,140.23 L410.3,140.23 L411.6,140.23 L412.9,140.23 L414.2,140.23 L415.5,140.23 L416.9,140.23 L418.2,140.23 L419.5,140.23 L420.8,140.23 L422.1,140.23 L423.4,140.23 L424.7,140.23 L426.1,140.23 L427.4,140.23 L428.7,140.23 L430.0,140.23 L431.3,140.23 L432.6,140.23 L434.0,140.23 L435.3,140.23 L436.6,140.23 L437.9,140.23 L439.2,140.23 L440.5,140.23 L441.8,140.23 L443.2,140.23 L444.5,140.23 L445.8,140.23 L447.1,140.23 L448.4,140.23 L449.7,140.23 L451.0,140.23 L452.4,140.23 L453.7,140.23 L455.0,140.23 L456.3,140.23 L457.6,140.23 L458.9,140.23 L460.2,140.23 L461.6,140.23 L462.9,140.23 L464.2,140.23 L465.5,140.23 L466.8,140.23 L468.1,140.23 L469.5,140.23 L470.8,140.23 L472.1,140.23 L473.4,140.23 L474.7,140.23 L476.0,140.23 L477.3,140.23 L478.7,140.23 L480.0,140.23 L481.3,140.23 L482.6,140.23 L483.9,140.23 L485.2,140.23 L486.6,140.23 L487.9,140.23 L489.2,140.23 L490.5,140.23 L491.8,140.23 L493.1,140.23 L494.4,140.23 L495.8,140.23 L497.1,140.23 L498.4,140.23 L499.7,140.23 L501.0,140.23 L502.3,140.23 L503.6,140.23 L505.0,140.23 L506.3,140.23 L507.6,140.23 L508.9,140.23 L510.2,140.23 L511.5,140.23 L512.9,140.23 L514.2,140.23 L515.5,140.23 L516.8,140.23 L518.1,140.23 L519.4,140.23 L520.7,140.23 L522.1,140.23 L523.4,140.23 L524.7,140.23 L526.0,140.23 L527.3,140.23 L528.6,140.23 L529.9,140.23 L531.3,140.23 L532.6,140.23 L533.9,140.23 L535.2,140.23 L536.5,140.23 L537.8,140.23 L539.1,140.23 L540.5,140.23 L541.8,140.23 L543.1,140.23 L544.4,140.23 L545.7,140.23 L547.0,140.23 L548.4,140.23 L549.7,140.23 L551.0,140.23 L552.3,140.23 L553.6,140.23 L554.9,140.23 L556.2,140.23 L557.6,140.23 L558.9,140.23 L560.2,140.23 L561.5,140.23 L562.8,140.23 L564.1,140.23 L565.5,140.23 L566.8,140.23 L568.1,140.23 L569.4,140.23 L570.7,140.23 L572.0,140.23 L573.3,140.23 L574.7,140.23 L576.0,140.23 L577.3,140.23 L578.6,140.23 L579.9,140.23 L581.2,140.23 L582.5,140.23 L583.9,140.23 L585.2,140.23 L586.5,140.23 L587.8,140.23 L589.1,140.23 L590.4,140.23 L591.8,140.23 L593.1,140.23 L594.4,140.23 L595.7,140.23 L597.0,140.23 L598.3,140.23 L599.6,140.23 L601.0,140.23 L602.3,140.23 L603.6,140.23 L604.9,140.23 L606.2,140.23 L607.5,140.23 L608.8,140.23 L610.2,140.23 L611.5,140.23 L612.8,140.23 L614.1,140.23 L615.4,140.23 L616.7,140.23 L618.0,140.23 L619.4,140.23 L620.7,140.23 L622.0,140.23 L623.3,140.23 L624.6,140.23 L625.9,140.23 L627.3,140.23 L628.6,140.23 L629.9,140.23 L631.2,140.23 L632.5,140.23 L633.8,140.23 L635.1,140.23 L636.5,140.23 L637.8,140.23 L639.1,140.23 L640.4,140.23 L641.7,140.23 L643.0,140.23 L644.4,140.23 L645.7,140.23 L647.0,140.23 L648.3,140.23 L649.6,140.23 L650.9,140.23 L652.2,140.23 L653.6,140.23 L654.9,140.23 L656.2,140.23 L657.5,140.23 L658.8,140.23 L660.1,140.23 L661.4,140.23 L662.8,140.23 L664.1,140.23 L665.4,140.23 L666.7,140.23 L668.0,140.23 L669.3,140.23 L670.7,140.23 L672.0,140.23 L673.3,140.23 L674.6,140.23 L675.9,140.23 L677.2,140.23 L678.5,140.23 L679.9,140.23 L681.2,140.23 L682.5,140.23 L683.8,140.23 L685.1,140.23 L686.4,140.23 L687.7,140.23 L689.1,140.23 L690.4,140.23 L691.7,140.23 L693.0,140.23 L694.3,140.23 L695.6,140.23 L697.0,140.23 L698.3,140.23 L699.6,140.23 L700.9,140.23 L702.2,140.23 L703.5,140.23 L704.8,140.23 L706.2,140.23 L707.5,140.23 L708.8,140.23 L710.1,140.23 L711.4,140.23 L712.7,140.23 L714.0,140.23 L715.4,140.23 L716.7,140.23 L718.0,140.23 L719.3,140.23 L720.6,140.23 L721.9,140.23 L723.2,140.23 L724.6,140.24 L725.9,140.24 L727.2,140.24 L728.5,140.24 L729.8,140.24 L731.1,140.24 L732.5,140.24 L733.8,140.24 L735.1,140.24 L736.4,140.24 L737.7,140.24 L739.0,140.24 L740.3,140.24 L741.7,140.24 L743.0,140.24 L744.3,140.24 L745.6,140.24 L746.9,140.24 L748.2,140.24 L749.5,140.24 L750.9,140.24 L752.2,140.24 L753.5,140.24 L754.8,140.24 L756.1,140.24 L757.4,140.24 L758.8,140.24 L760.1,140.24 L761.4,140.24 L762.7,140.24 L764.0,140.24 L765.3,140.24 L766.6,140.24 L768.0,140.24 L769.3,140.24 L770.6,140.24 L771.9,140.24 L773.2,140.24 L774.5,140.24 L775.9,140.24 L777.2,140.24 L778.5,140.24 L779.8,140.24 L781.1,140.24 L782.4,140.24 L783.7,140.24 L785.1,140.24 L786.4,140.24 L787.7,140.24 L789.0,140.24 L790.3,140.24 L791.6,140.24 L792.9,140.24 L794.3,140.24 L795.6,140.24 L796.9,140.24 L798.2,140.24 L799.5,140.24 L800.8,140.24 L802.1,140.25 L803.5,140.25 L804.8,140.25 L806.1,140.25 L807.4,140.25 L808.7,140.25 L810.0,140.25 L811.4,140.25 L812.7,140.25 L814.0,140.25 L815.3,140.25 L816.6,140.25 L817.9,140.25 L819.2,140.25 L820.6,140.25 L821.9,140.25 L823.2,140.26 L824.5,140.26 L825.8,140.26 L827.1,140.26 L828.5,140.26 L829.8,140.26 L831.1,140.26 L832.4,140.26 L833.7,140.26 L835.0,140.27 L836.3,140.27 L837.7,140.27 L839.0,140.27 L840.3,140.27 L841.6,140.27 L842.9,140.27 L844.2,140.28 L845.5,140.28 L846.9,140.28 L848.2,140.28 L849.5,140.28 L850.8,140.29 L852.1,140.29 L853.4,140.29 L854.8,140.29 L856.1,140.29 L857.4,140.30 L858.7,140.30 L860.0,140.30 L861.3,140.30 L862.6,140.31 L864.0,140.31 L865.3,140.31 L866.6,140.32 L867.9,140.32 L869.2,140.32 L870.5,140.33 L871.8,140.33 L873.2,140.33 L874.5,140.34 L875.8,140.34 L877.1,140.35 L878.4,140.35 L879.7,140.36 L881.0,140.36 L882.4,140.37 L883.7,140.37 L885.0,140.38 L886.3,140.38 L887.6,140.39 L888.9,140.39 L890.3,140.40 L891.6,140.41 L892.9,140.41 L894.2,140.42 L895.5,140.43 L896.8,140.43 L898.1,140.44 L899.5,140.45 L900.8,140.46 L902.1,140.47 L903.4,140.47 L904.7,140.48 L906.0,140.49 L907.4,140.50 L908.7,140.51 L910.0,140.52 L911.3,140.53 L912.6,140.54 L913.9,140.56 L915.2,140.57 L916.6,140.58 L917.9,140.59 L919.2,140.61 L920.5,140.62 L921.8,140.63 L923.1,140.65 L924.4,140.66 L925.8,140.68 L927.1,140.70 L928.4,140.71 L929.7,140.73 L931.0,140.75 L932.3,140.77 L933.6,140.78 L935.0,140.80 L936.3,140.82 L937.6,140.84 L938.9,140.87 L940.2,140.89 L941.5,140.91 L942.9,140.94 L944.2,140.96 L945.5,140.99 L946.8,141.01 L948.1,141.04 L949.4,141.07 L950.7,141.10 L952.1,141.13 L953.4,141.16 L954.7,141.19 L956.0,141.22 L957.3,141.25 L958.6,141.29 L960.0,141.33 L961.3,141.36 L962.6,141.40 L963.9,141.44 L965.2,141.48 L966.5,141.52 L967.8,141.57 L969.2,141.61 L970.5,141.66 L971.8,141.70 L973.1,141.75 L974.4,141.80 L975.7,141.86 L977.0,141.91 L978.4,141.96 L979.7,142.02 L981.0,142.08 L982.3,142.14 L983.6,142.20 L984.9,142.27 L986.2,142.33 L987.6,142.40 L988.9,142.47 L990.2,142.54 L991.5,142.62 L992.8,142.69 L994.1,142.77 L995.5,142.85 L996.8,142.93 L998.1,143.02 L999.4,143.11 L1000.7,143.20 L1002.0,143.29 L1003.3,143.39 L1004.7,143.49 L1006.0,143.59 L1007.3,143.69 L1008.6,143.80 L1009.9,143.91 L1011.2,144.02 L1012.5,144.14 L1013.9,144.26 L1015.2,144.38 L1016.5,144.51 L1017.8,144.64 L1019.1,144.77 L1020.4,144.91 L1021.8,145.05 L1023.1,145.20 L1024.4,145.35 L1025.7,145.50 L1027.0,145.66 L1028.3,145.82 L1029.6,145.98 L1031.0,146.15 L1032.3,146.33 L1033.6,146.51 L1034.9,146.69 L1036.2,146.88 L1037.5,147.07 L1038.8,147.27 L1040.2,147.48 L1041.5,147.69 L1042.8,147.90 L1044.1,148.12 L1045.4,148.35 L1046.7,148.58 L1048.1,148.81 L1049.4,149.06 L1050.7,149.30 L1052.0,149.56 L1053.3,149.82 L1054.6,150.09 L1055.9,150.36 L1057.3,150.64 L1058.6,150.93 L1059.9,151.22 L1061.2,151.52 L1062.5,151.83 L1063.8,152.15 L1065.2,152.47 L1066.5,152.80 L1067.8,153.14 L1069.1,153.48 L1070.4,153.84 L1071.7,154.20 L1073.0,154.57 L1074.4,154.95 L1075.7,155.33 L1077.0,155.73 L1078.3,156.13 L1079.6,156.54 L1080.9,156.96 L1082.2,157.39 L1083.6,157.83 L1084.9,158.28 L1086.2,158.74 L1087.5,159.21 L1088.8,159.68 L1090.1,160.17 L1091.5,160.67 L1092.8,161.17 L1094.1,161.69 L1095.4,162.22 L1096.7,162.76 L1098.0,163.30 L1099.3,163.86 L1100.7,164.43 L1102.0,165.01 L1103.3,165.60 L1104.6,166.21 L1105.9,166.82 L1107.2,167.44 L1108.5,168.08 L1109.9,168.73 L1111.2,169.39 L1112.5,170.06 L1113.8,170.74 L1115.1,171.43 L1116.4,172.14 L1117.8,172.86 L1119.1,173.59 L1120.4,174.33 L1121.7,175.09 L1123.0,175.85 L1124.3,176.63 L1125.6,177.43 L1127.0,178.23 L1128.3,179.05 L1129.6,179.88 L1130.9,180.72 L1132.2,181.57 L1133.5,182.44 L1134.8,183.32 L1136.2,184.22 L1137.5,185.12 L1138.8,186.04 L1140.1,186.97 L1141.4,187.92 L1142.7,188.87 L1144.0,189.84 L1145.4,190.83 L1146.7,191.82 L1148.0,192.83 L1149.3,193.86 L1150.6,194.89 L1151.9,195.94 L1153.3,197.00 L1154.6,198.07 L1155.9,199.16 L1157.2,200.26 L1158.5,201.37 L1159.8,202.50 L1161.1,203.63 L1162.5,204.78 L1163.8,205.95 L1165.1,207.12 L1166.4,208.31 L1167.7,209.51 L1169.0,210.72 L1170.3,211.95 L1171.7,213.19 L1173.0,214.44 L1174.3,215.70 L1175.6,216.97 L1176.9,218.26 L1178.2,219.56 L1179.6,220.87 L1180.9,222.19 L1182.2,223.52 L1183.5,224.87 L1184.8,226.22 L1186.1,227.59 L1187.4,228.97 L1188.8,230.36 L1190.1,231.76 L1191.4,233.17 L1192.7,234.60 L1194.0,236.03 L1195.3,237.47 L1196.7,238.93 L1198.0,240.40 L1199.3,241.87 L1200.6,243.36 L1201.9,244.86 L1203.2,246.36 L1204.5,247.88 L1205.9,249.40 L1207.2,250.94 L1208.5,252.49 L1209.8,254.04 L1211.1,255.61 L1212.4,257.18 L1213.7,258.76 L1215.1,260.36 L1216.4,261.96 L1217.7,263.57 L1219.0,265.19 L1220.3,266.81 L1221.6,268.45 L1222.9,270.09 L1224.3,271.74 L1225.6,273.40 L1226.9,275.07 L1228.2,276.75 L1229.5,278.43 L1230.8,280.13 L1232.2,281.82 L1233.5,283.53 L1234.8,285.25 L1236.1,286.97 L1237.4,288.70 L1238.7,290.43 L1240.0,292.17 L1241.4,293.92 L1242.7,295.68 L1244.0,297.44 L1245.3,299.21 L1246.6,300.98 L1247.9,302.77 L1249.2,304.55 L1250.6,306.35 L1251.9,308.15 L1253.2,309.95 L1254.5,311.77 L1255.8,313.58 L1257.1,315.41 L1258.5,317.23 L1259.8,319.07 L1261.1,320.91 L1262.4,322.75 L1263.7,324.60 L1265.0,326.46 L1266.3,328.32 L1267.7,330.18 L1269.0,332.05 L1270.3,333.92 L1271.6,335.80 L1272.9,337.69 L1274.2,339.57 L1275.5,341.47 L1276.9,343.36 L1278.2,345.26 L1279.5,347.17 L1280.8,349.08 L1282.1,350.99 L1283.4,352.91 L1284.8,354.83 L1286.1,356.75 L1287.4,358.68 L1288.7,360.62 L1290.0,362.55 L1291.3,364.49 L1292.6,366.43 L1294.0,368.38 L1295.3,370.33 L1296.6,372.28 L1297.9,374.24 L1299.2,376.20 L1300.5,378.16 L1301.8,380.13 L1303.2,382.10 L1304.5,384.07 L1305.8,386.05 L1307.1,388.02 L1308.4,390.00 L1309.7,391.99 L1311.1,393.97 L1312.4,395.96 L1313.7,397.95 L1315.0,399.95 L1316.3,401.94 L1317.6,403.94 L1318.9,405.94 L1320.3,407.95 L1321.6,409.95 L1322.9,411.96 L1324.2,413.97 L1325.5,415.99 L1326.8,418.00 L1328.2,420.02 L1329.5,422.04 L1330.8,424.06 L1332.1,426.08 L1333.4,428.11 L1334.7,430.14 L1336.0,432.17 L1337.4,434.20 L1338.7,436.23 L1340.0,438.27 L1341.3,440.30 L1342.6,442.34 L1343.9,444.38 L1345.2,446.42 L1346.6,448.47 L1347.9,450.51 L1349.2,452.56 L1350.5,454.61 L1351.8,456.66 L1353.1,458.71 L1354.4,460.76 L1355.8,462.82 L1357.1,464.87 L1358.4,466.93 L1359.7,468.99 L1361.0,471.05 L1362.3,473.11 L1363.7,475.17 L1365.0,477.24 L1366.3,479.30 L1367.6,481.37 L1368.9,483.44 L1370.2,485.51 L1371.5,487.58 L1372.9,489.65 L1374.2,491.72 L1375.5,493.79 L1376.8,495.87 L1378.1,497.94 L1379.4,500.02 L1380.8,502.10 L1382.1,504.18 L1383.4,506.26 L1384.7,508.34 L1386.0,510.42 L1387.3,512.50 L1388.6,514.59 L1390.0,516.67 L1391.3,518.76 L1392.6,520.85 L1393.9,522.93 L1395.2,525.02 L1396.5,527.11 L1397.8,529.20 L1399.2,531.29 L1400.5,533.38 L1401.8,535.48 L1403.1,537.57 L1404.4,539.66 L1405.7,541.76 L1407.1,543.85 L1408.4,545.95 L1409.7,548.05 L1411.0,550.15 L1412.3,552.24 L1413.6,554.34 L1414.9,556.44 L1416.3,558.54 L1417.6,560.64 L1418.9,562.75 L1420.2,564.85 L1421.5,566.95 L1422.8,569.06 L1424.1,571.16 L1425.5,573.26 L1426.8,575.37 L1428.1,577.48 L1429.4,579.58 L1430.7,581.69 L1432.0,583.80 L1433.3,585.90 L1434.7,588.01 L1436.0,590.12 L1437.3,592.23 L1438.6,594.34 L1439.9,596.45 L1441.2,598.56 L1442.6,600.67 L1443.9,602.79 L1445.2,604.90 L1446.5,607.01 L1447.8,609.13 L1449.1,611.24 L1450.4,613.35 L1451.8,615.47 L1453.1,617.58 L1454.4,619.70 L1455.7,621.81 L1457.0,623.93 L1458.3,626.05 L1459.7,628.16 L1461.0,630.28 L1462.3,632.40 L1463.6,634.51 L1464.9,636.63 L1466.2,638.75 L1467.5,640.87 L1468.9,642.99 L1470.2,645.11 L1471.5,647.23 L1472.8,649.35 L1474.1,651.47 L1475.4,653.59 L1476.7,655.71 L1478.1,657.83 L1479.4,659.95 L1480.7,662.07 L1482.0,664.19 L1483.3,666.31 L1484.6,668.44 L1485.9,670.56 L1487.3,672.68 L1488.6,674.80 L1489.9,676.93 L1491.2,679.05 L1492.5,681.17 L1493.8,683.29 L1495.2,685.42 L1496.5,687.54 L1497.8,689.66 L1499.1,691.79 L1500.4,693.91 L1501.7,696.04 L1503.0,698.16 L1504.4,700.28 L1505.7,702.41 L1507.0,704.53 L1508.3,706.66 L1509.6,708.78 L1510.9,710.91 L1512.2,713.03 L1513.6,715.16 L1514.9,717.28 L1516.2,719.41 L1517.5,721.53 L1518.8,723.66 L1520.1,725.78 L1521.5,727.91 L1522.8,730.03 L1524.1,732.15 L1525.4,734.28 L1526.7,736.40 L1528.0,738.53 L1529.3,740.65 L1530.7,742.78 L1532.0,744.90 L1533.3,747.03 L1534.6,749.15 L1535.9,751.28 L1537.2,753.40 L1538.6,755.52 L1539.9,757.65 L1541.2,759.77 L1542.5,761.89 L1543.8,764.02 L1545.1,766.14 L1546.4,768.26 L1547.8,770.39 L1549.1,772.51 L1550.4,774.63 L1551.7,776.75 L1553.0,778.88 L1554.3,781.00 L1555.6,783.12 L1557.0,785.24 L1558.3,787.36 L1559.6,789.48 L1560.9,791.60 L1562.2,793.72 L1563.5,795.84 L1564.8,797.96 L1566.2,800.08 L1567.5,802.20 L1568.8,804.32 L1570.1,806.44 L1571.4,808.55 L1572.7,810.67 L1574.1,812.79 L1575.4,814.90 L1576.7,817.02 L1578.0,819.13 L1579.3,821.25 L1580.6,823.36 L1581.9,825.48 L1583.3,827.59 L1584.6,829.70 L1585.9,831.81 L1587.2,833.93 L1588.5,836.04 L1589.8,838.15 L1591.2,840.26 L1592.5,842.36 L1593.8,844.47 L1595.1,846.58 L1596.4,848.69 L1597.7,850.79 L1599.0,852.90 L1600.4,855.00 L1601.7,857.11 L1603.0,859.21 L1604.3,861.31 L1605.6,863.42 L1606.9,865.52 L1608.2,867.62 L1609.6,869.71 L1610.9,871.81 L1612.2,873.91 L1613.5,876.01 L1614.8,878.10 L1616.1,880.19 L1617.4,882.29 L1618.8,884.38 L1620.1,886.47 L1621.4,888.56 L1622.7,890.65 L1624.0,892.74 L1625.3,894.82 L1626.7,896.91 L1628.0,898.99 L1629.3,901.07 L1630.6,903.16 L1631.9,905.24 L1633.2,907.31 L1634.5,909.39 L1635.9,911.47 L1637.2,913.54 L1638.5,915.62 L1639.8,917.69 L1641.1,919.76 L1642.4,921.83 L1643.8,923.89 L1645.1,925.96 L1646.4,928.02 L1647.7,930.09 L1649.0,932.15 L1650.3,934.20 L1651.6,936.26 L1653.0,938.32 L1654.3,940.37 L1655.6,942.42 L1656.9,944.47 L1658.2,946.52 L1659.5,948.57 L1660.8,950.61 L1662.2,952.65 L1663.5,954.69 L1664.8,956.73 L1666.1,958.76 L1667.4,960.80 L1668.7,962.83 L1670.1,964.86 L1671.4,966.88 L1672.7,968.91 L1674.0,970.93 L1675.3,972.95 L1676.6,974.97 L1677.9,976.98 L1679.3,978.99 L1680.6,981.00 L1681.9,983.01 L1683.2,985.01 L1684.5,987.01 L1685.8,989.01 L1687.1,991.01 L1688.5,993.00 L1689.8,994.99 L1691.1,996.98 L1692.4,998.96 L1693.7,1000.94 L1695.0,1002.92 L1696.3,1004.90 L1697.7,1006.87 L1699.0,1008.84 L1700.3,1010.80 L1701.6,1012.76 L1702.9,1014.72 L1704.2,1016.68 L1705.6,1018.63 L1706.9,1020.58 L1708.2,1022.52 L1709.5,1024.46 L1710.8,1026.40 L1712.1,1028.33 L1713.4,1030.26 L1714.8,1032.19 L1716.1,1034.11 L1717.4,1036.03 L1718.7,1037.94 L1720.0,1039.85 L1721.3,1041.75 L1722.7,1043.65 L1724.0,1045.55 L1725.3,1047.44 L1726.6,1049.33 L1727.9,1051.22 L1729.2,1053.09 L1730.5,1054.97 L1731.9,1056.84 L1733.2,1058.70 L1734.5,1060.57 L1735.8,1062.42 L1737.1,1064.27 L1738.4,1066.12 L1739.7,1067.96 L1741.1,1069.79 L1742.4,1071.63 L1743.7,1073.45 L1745.0,1075.27 L1746.3,1077.09 L1747.6,1078.90 L1748.9,1080.70 L1750.3,1082.50 L1751.6,1084.29 L1752.9,1086.08 L1754.2,1087.86 L1755.5,1089.64 L1756.8,1091.41 L1758.2,1093.18 L1759.5,1094.94 L1760.8,1096.69 L1762.1,1098.44 L1763.4,1100.18 L1764.7,1101.91 L1766.0,1103.64 L1767.4,1105.36 L1768.7,1107.08 L1770.0,1108.79 L1771.3,1110.49 L1772.6,1112.19 L1773.9,1113.88 L1775.2,1115.56 L1776.6,1117.24 L1777.9,1118.91 L1779.2,1120.57 L1780.5,1122.22 L1781.8,1123.87 L1783.1,1125.52 L1784.5,1127.15 L1785.8,1128.78 L1787.1,1130.40 L1788.4,1132.01 L1789.7,1133.62 L1791.0,1135.22 L1792.3,1136.81 L1793.7,1138.39 L1795.0,1139.97 L1796.3,1141.54 L1797.6,1143.10 L1798.9,1144.65 L1800.2,1146.20 L1801.6,1147.74 L1802.9,1149.27 L1804.2,1150.79 L1805.5,1152.30 L1806.8,1153.81 L1808.1,1155.31 L1809.4,1156.80 L1810.8,1158.28 L1812.1,1159.75 L1813.4,1161.22 L1814.7,1162.68 L1816.0,1164.12 L1817.3,1165.57 L1818.6,1167.00 L1820.0,1168.42 L1821.3,1169.84 L1822.6,1171.24 L1823.9,1172.64 L1825.2,1174.03 L1826.5,1175.42 L1827.8,1176.79 L1829.2,1178.15 L1830.5,1179.51 L1831.8,1180.85 L1833.1,1182.19 L1834.4,1183.52 L1835.7,1184.84 L1837.1,1186.15 L1838.4,1187.46 L1839.7,1188.75 L1841.0,1190.04 L1842.3,1191.31 L1843.6,1192.58 L1844.9,1193.84 L1846.3,1195.09 L1847.6,1196.33 L1848.9,1197.56 L1850.2,1198.78 L1851.5,1199.99 L1852.8,1201.20 L1854.2,1202.39 L1855.5,1203.58 L1856.8,1204.76 L1858.1,1205.93 L1859.4,1207.08 L1860.7,1208.23 L1862.0,1209.38 L1863.4,1210.51 L1864.7,1211.63 L1866.0,1212.74 L1867.3,1213.85 L1868.6,1214.94 L1869.9,1216.03 L1871.2,1217.11 L1872.6,1218.18 L1873.9,1219.24 L1875.2,1220.29 L1876.5,1221.33 L1877.8,1222.36 L1879.1,1223.39 L1880.4,1224.40 L1881.8,1225.41 L1883.1,1226.41 L1884.4,1227.39 L1885.7,1228.37 L1887.0,1229.34 L1888.3,1230.31 L1889.7,1231.26 L1891.0,1232.20 L1892.3,1233.14 L1893.6,1234.06 L1894.9,1234.98 L1896.2,1235.89 L1897.5,1236.79 L1898.9,1237.69 L1900.2,1238.57 L1901.5,1239.44 L1902.8,1240.31 L1904.1,1241.17 L1905.4,1242.02 L1906.8,1242.86 L1908.1,1243.69 L1909.4,1244.52 L1910.7,1245.34 L1912.0,1246.14 L1913.3,1246.95 L1914.6,1247.74 L1916.0,1248.52 L1917.3,1249.30 L1918.6,1250.07 L1919.9,1250.83 L1921.2,1251.58 L1922.5,1252.32 L1923.8,1253.06 L1925.2,1253.79 L1926.5,1254.51 L1927.8,1255.22 L1929.1,1255.93 L1930.4,1256.63 L1931.7,1257.32 L1933.1,1258.00 L1934.4,1258.68 L1935.7,1259.35 L1937.0,1260.01 L1938.3,1260.66 L1939.6,1261.31 L1940.9,1261.95 L1942.3,1262.58 L1943.6,1263.20 L1944.9,1263.82 L1946.2,1264.43 L1947.5,1265.04 L1948.8,1265.64 L1950.1,1266.23 L1951.5,1266.81 L1952.8,1267.39 L1954.1,1267.96 L1955.4,1268.52 L1956.7,1269.08 L1958.0,1269.63 L1959.3,1270.18 L1960.7,1270.72 L1962.0,1271.25 L1963.3,1271.78 L1964.6,1272.30 L1965.9,1272.81 L1967.2,1273.32 L1968.6,1273.82 L1969.9,1274.32 L1971.2,1274.81 L1972.5,1275.29 L1973.8,1275.77 L1975.1,1276.24 L1976.4,1276.71 L1977.8,1277.17 L1979.1,1277.63 L1980.4,1278.08 L1981.7,1278.52 L1983.0,1278.96 L1984.3,1279.39 L1985.7,1279.82 L1987.0,1280.25 L1988.3,1280.66 L1989.6,1281.08 L1990.9,1281.49 L1992.2,1281.89 L1993.5,1282.29 L1994.9,1282.68 L1996.2,1283.07 L1997.5,1283.45 L1998.8,1283.83 L2000.1,1284.21 L2001.4,1284.58 L2002.7,1284.94 L2004.1,1285.30 L2005.4,1285.66 L2006.7,1286.01 L2008.0,1286.35 L2009.3,1286.70 L2010.6,1287.04 L2011.9,1287.37 L2013.3,1287.70 L2014.6,1288.02 L2015.9,1288.35 L2017.2,1288.66 L2018.5,1288.98 L2019.8,1289.29 L2021.2,1289.59 L2022.5,1289.89 L2023.8,1290.19 L2025.1,1290.48 L2026.4,1290.78 L2027.7,1291.06 L2029.0,1291.34 L2030.4,1291.62 L2031.7,1291.90 L2033.0,1292.17 L2034.3,1292.44 L2035.6,1292.70 L2036.9,1292.97 L2038.2,1293.22 L2039.6,1293.48 L2040.9,1293.73 L2042.2,1293.98 L2043.5,1294.23 L2044.8,1294.47 L2046.1,1294.71 L2047.5,1294.94 L2048.8,1295.18 L2050.1,1295.40 L2051.4,1295.63 L2052.7,1295.86 L2054.0,1296.08 L2055.3,1296.29 L2056.7,1296.51 L2058.0,1296.72 L2059.3,1296.93 L2060.6,1297.14 L2061.9,1297.34 L2063.2,1297.55 L2064.5,1297.74 L2065.9,1297.94 L2067.2,1298.13 L2068.5,1298.33 L2069.8,1298.51 L2071.1,1298.70 L2072.4,1298.88 L2073.8,1299.07 L2075.1,1299.25 L2076.4,1299.42 L2077.7,1299.60 L2079.0,1299.77 L2080.3,1299.94 L2081.6,1300.11 L2083.0,1300.27 L2084.3,1300.44 L2085.6,1300.60 L2086.9,1300.76 L2088.2,1300.91 L2089.5,1301.07 L2090.8,1301.22 L2092.2,1301.37 L2093.5,1301.52 L2094.8,1301.67 L2096.1,1301.81 L2097.4,1301.96 L2098.7,1302.10 L2100.1,1302.24 L2101.4,1302.38 L2102.7,1302.51 L2104.0,1302.65 L2105.3,1302.78 L2106.6,1302.91 L2107.9,1303.04 L2109.3,1303.17 L2110.6,1303.29 L2111.9,1303.42 L2113.2,1303.54 L2114.5,1303.66 L2115.8,1303.78 L2117.2,1303.90 L2118.5,1304.01 L2119.8,1304.13 L2121.1,1304.24 L2122.4,1304.35 L2123.7,1304.46 L2125.0,1304.57 L2126.4,1304.68 L2127.7,1304.78 L2129.0,1304.89 L2130.3,1304.99 L2131.6,1305.09 L2132.9,1305.19 L2134.2,1305.29 L2135.6,1305.39 L2136.9,1305.49 L2138.2,1305.58 L2139.5,1305.68 L2140.8,1305.77 L2142.1,1305.86 L2143.4,1305.95 L2144.8,1306.04 L2146.1,1306.13 L2147.4,1306.22 L2148.7,1306.30 L2150.0,1306.39 L2151.3,1306.47 L2152.7,1306.55 L2154.0,1306.64 L2155.3,1306.72 L2156.6,1306.80 L2157.9,1306.87 L2159.2,1306.95 L2160.5,1307.03 L2161.9,1307.10 L2163.2,1307.18 L2164.5,1307.25 L2165.8,1307.33 L2167.1,1307.40 L2168.4,1307.47 L2169.8,1307.54 L2171.1,1307.61 L2172.4,1307.67 L2173.7,1307.74 L2175.0,1307.81 L2176.3,1307.87 L2177.6,1307.94 L2179.0,1308.00 L2180.3,1308.07 L2181.6,1308.13 L2182.9,1308.19 L2184.2,1308.25 L2185.5,1308.31 L2186.8,1308.37 L2188.2,1308.43 L2189.5,1308.48 L2190.8,1308.54 L2192.1,1308.60 L2193.4,1308.65 L2194.7,1308.71 L2196.0,1308.76 L2197.4,1308.82 L2198.7,1308.87 L2200.0,1308.92 L2201.3,1308.97 L2202.6,1309.02 L2203.9,1309.07 L2205.3,1309.12 L2206.6,1309.17 L2207.9,1309.22 L2209.2,1309.27 L2210.5,1309.31 L2211.8,1309.36 L2213.1,1309.41 L2214.5,1309.45 L2215.8,1309.50 L2217.1,1309.54 L2218.4,1309.58 L2219.7,1309.63 L2221.0,1309.67 L2222.3,1309.71 L2223.7,1309.75 L2225.0,1309.79 L2226.3,1309.83 L2227.6,1309.87 L2228.9,1309.91 L2230.2,1309.95 L2231.6,1309.99 L2232.9,1310.03 L2234.2,1310.07 L2235.5,1310.10 L2236.8,1310.14 L2238.1,1310.18 L2239.4,1310.21 L2240.8,1310.25 L2242.1,1310.28 L2243.4,1310.32 L2244.7,1310.35 L2246.0,1310.38 L2247.3,1310.42 L2248.7,1310.45 L2250.0,1310.48 L2251.3,1310.51 L2252.6,1310.54 L2253.9,1310.58 L2255.2,1310.61 L2256.5,1310.64 L2257.9,1310.67 L2259.2,1310.70 L2260.5,1310.73 L2261.8,1310.75 L2263.1,1310.78 L2264.4,1310.81 L2265.7,1310.84 L2267.1,1310.87 L2268.4,1310.89 L2269.7,1310.92 L2271.0,1310.95 L2272.3,1310.97 L2273.6,1311.00 L2274.9,1311.02 L2276.3,1311.05 L2277.6,1311.07 L2278.9,1311.10 L2280.2,1311.12 L2281.5,1311.15 L2282.8,1311.17 L2284.2,1311.19 L2285.5,1311.22 L2286.8,1311.24 L2288.1,1311.26 L2289.4,1311.29 L2290.7,1311.31 L2292.0,1311.33 L2293.4,1311.35 L2294.7,1311.37 L2296.0,1311.39 L2297.3,1311.41 L2298.6,1311.44 L2299.9,1311.46 L2301.2,1311.48 L2302.6,1311.50 L2303.9,1311.51 L2305.2,1311.53 L2306.5,1311.55 L2307.8,1311.57 L2309.1,1311.59 L2310.5,1311.61 L2311.8,1311.63 L2313.1,1311.65 L2314.4,1311.66 L2315.7,1311.68 L2317.0,1311.70 L2318.3,1311.72 L2319.7,1311.73 L2321.0,1311.75 L2322.3,1311.77 L2323.6,1311.78 L2324.9,1311.80 L2326.2,1311.81 L2327.5,1311.83 L2328.9,1311.85 L2330.2,1311.86 L2331.5,1311.88 L2332.8,1311.89 L2334.1,1311.91 L2335.4,1311.92 L2336.8,1311.94 L2338.1,1311.95 L2339.4,1311.96 L2340.7,1311.98 L2342.0,1311.99 L2343.3,1312.01 L2344.6,1312.02 L2346.0,1312.03 L2347.3,1312.05 L2348.6,1312.06 L2349.9,1312.07 L2351.2,1312.09 L2352.5,1312.10 L2353.8,1312.11 L2355.2,1312.12 L2356.5,1312.14 L2357.8,1312.15 L2359.1,1312.16 L2360.4,1312.17 L2361.7,1312.18 L2363.1,1312.19 L2364.4,1312.21 L2365.7,1312.22 L2367.0,1312.23 L2368.3,1312.24 L2369.6,1312.25 L2370.9,1312.26 L2372.3,1312.27 L2373.6,1312.28 L2374.9,1312.29 L2376.2,1312.30 L2377.5,1312.31 L2378.8,1312.32 L2380.1,1312.33 L2381.5,1312.34 L2382.8,1312.35 L2384.1,1312.36 L2385.4,1312.37 L2386.7,1312.38 L2388.0,1312.39 L2389.4,1312.40 L2390.7,1312.41 L2392.0,1312.42 L2393.3,1312.43 L2394.6,1312.44 L2395.9,1312.44 L2397.2,1312.45 L2398.6,1312.46 L2399.9,1312.47 L2401.2,1312.48 L2402.5,1312.49 L2403.8,1312.49 L2405.1,1312.50 L2406.4,1312.51 L2407.8,1312.52 L2409.1,1312.53 L2410.4,1312.53 L2411.7,1312.54 L2413.0,1312.55 L2414.3,1312.56 L2415.7,1312.56 L2417.0,1312.57 L2418.3,1312.58 L2419.6,1312.59" stroke-width="6.4"/>
<path id="cc" d="M320.3,139.69 L341.3,139.69 M368.8,139.69 L389.8,139.69 M417.3,139.69 L438.3,139.69 M465.8,139.69 L486.8,139.69 M513.2,139.98 L517.4,140.64 L521.6,141.36 L525.7,142.17 L529.8,143.05 L533.9,144.00 L538.0,145.04 M561.8,153.09 L565.5,154.71 L569.2,156.40 L572.8,158.18 L576.4,160.03 L579.9,161.95 L583.3,163.94 M605.1,178.93 L608.1,181.29 L611.1,183.69 L614.0,186.11 L616.9,188.57 L619.8,191.05 L622.6,193.55 M642.5,212.49 L645.1,215.13 L647.7,217.79 L650.2,220.46 L652.7,223.15 L655.2,225.84 L657.7,228.55 M676.1,249.64 L678.4,252.44 L680.7,255.24 L683.0,258.05 L685.3,260.87 L687.6,263.69 L689.8,266.53 M707.1,288.90 L709.2,291.77 L711.4,294.65 L713.6,297.53 L715.7,300.41 L717.8,303.29 L720.0,306.17 M736.8,328.99 L739.0,331.88 L741.1,334.76 L743.2,337.65 L745.4,340.53 L747.5,343.42 L749.6,346.30 M766.6,369.05 L768.7,371.94 L770.9,374.82 L773.0,377.70 L775.2,380.58 L777.3,383.46 L779.5,386.33 M796.4,409.04 L798.6,411.91 L800.7,414.79 L802.9,417.67 L805.0,420.55 L807.2,423.42 L809.4,426.30 M826.2,448.81 L828.4,451.68 L830.5,454.56 L832.7,457.44 L834.8,460.32 L837.0,463.19 L839.1,466.07 M856.0,488.60 L858.1,491.48 L860.3,494.36 L862.4,497.24 L864.6,500.12 L866.7,503.00 L868.9,505.88 M885.6,528.40 L887.7,531.28 L889.9,534.17 L892.0,537.05 L894.1,539.94 L896.3,542.82 L898.4,545.71 M914.1,567.03 L916.2,569.92 L918.4,572.82 L920.5,575.71 L922.6,578.60 L924.7,581.50 L926.8,584.39 M943.3,607.10 L945.4,610.00 L947.5,612.90 L949.6,615.81 L951.7,618.71 L953.8,621.62 L955.9,624.52 M971.8,646.77 L973.9,649.69 L976.0,652.60 L978.0,655.52 L980.1,658.43 L982.2,661.35 L984.2,664.27 M1000.0,686.71 L1002.0,689.63 L1004.0,692.56 L1006.1,695.49 L1008.1,698.42 L1010.1,701.36 L1012.2,704.29 M1027.6,726.66 L1029.6,729.60 L1031.6,732.54 L1033.6,735.47 L1035.6,738.41 L1037.7,741.35 L1039.7,744.28 M1055.1,766.60 L1057.2,769.53 L1059.2,772.45 L1061.3,775.38 L1063.3,778.30 L1065.4,781.22 L1067.4,784.14 M1084.3,807.59 L1086.4,810.48 L1088.5,813.38 L1090.6,816.26 L1092.8,819.15 L1094.9,822.03 L1097.1,824.91 M1114.5,847.70 L1116.8,850.54 L1119.0,853.38 L1121.3,856.21 L1123.5,859.03 L1125.8,861.85 L1128.1,864.66 M1147.5,887.65 L1149.9,890.41 L1152.3,893.15 L1154.7,895.89 L1157.2,898.62 L1159.6,901.34 L1162.1,904.06 M1183.6,926.57 L1186.2,929.19 L1188.8,931.81 L1191.5,934.42 L1194.2,937.02 L1196.8,939.61 L1199.6,942.18 M1224.3,964.46 L1227.2,966.92 L1230.1,969.36 L1233.0,971.79 L1236.0,974.20 L1238.9,976.60 L1241.9,978.99 M1265.8,997.20 L1268.9,999.47 L1272.0,1001.73 L1275.2,1003.97 L1278.4,1006.21 L1281.5,1008.43 L1284.7,1010.64 M1309.0,1026.74 L1312.3,1028.86 L1315.6,1030.96 L1318.9,1033.05 L1322.2,1035.13 L1325.6,1037.21 L1328.9,1039.27 M1351.3,1052.64 L1354.7,1054.63 L1358.1,1056.61 L1361.6,1058.59 L1365.0,1060.55 L1368.5,1062.51 L1371.9,1064.46 M1389.5,1074.15 L1393.0,1076.06 L1396.5,1077.95 L1400.0,1079.84 L1403.5,1081.73 L1407.1,1083.60 L1410.6,1085.47 M1435.3,1098.31 L1438.9,1100.14 L1442.4,1101.95 L1446.0,1103.76 L1449.6,1105.57 L1453.2,1107.37 L1456.8,1109.17 M1478.6,1119.92 L1482.2,1121.68 L1485.8,1123.44 L1489.5,1125.20 L1493.1,1126.95 L1496.7,1128.70 L1500.3,1130.44 M1521.5,1140.53 L1525.2,1142.25 L1528.9,1143.98 L1532.5,1145.69 L1536.2,1147.41 L1539.8,1149.12 L1543.5,1150.84 M1568.9,1162.68 L1572.6,1164.38 L1576.3,1166.08 L1580.0,1167.77 L1583.6,1169.47 L1587.3,1171.17 L1591.0,1172.86 M1614.3,1183.63 L1618.0,1185.33 L1621.6,1187.02 L1625.3,1188.72 L1629.0,1190.42 L1632.6,1192.12 L1636.3,1193.82 M1659.1,1204.34 L1662.7,1206.03 L1666.4,1207.72 L1670.1,1209.40 L1673.8,1211.08 L1677.5,1212.76 L1681.2,1214.44 M1704.2,1224.73 L1707.9,1226.37 L1711.6,1228.00 L1715.3,1229.62 L1719.1,1231.23 L1722.8,1232.84 L1726.6,1234.44 M1746.5,1242.73 L1750.3,1244.27 L1754.1,1245.80 L1757.9,1247.31 L1761.7,1248.81 L1765.5,1250.30 L1769.3,1251.78 M1794.5,1261.09 L1798.4,1262.45 L1802.3,1263.80 L1806.2,1265.14 L1810.2,1266.45 L1814.1,1267.75 L1818.0,1269.03 M1842.8,1276.56 L1846.8,1277.69 L1850.8,1278.81 L1854.9,1279.89 L1858.9,1280.96 L1863.0,1282.00 L1867.0,1283.02 M1890.5,1288.44 L1894.7,1289.30 L1898.8,1290.15 L1902.9,1290.98 L1907.1,1291.78 L1911.2,1292.57 L1915.4,1293.33 M1939.4,1297.35 L1943.6,1297.98 L1947.8,1298.59 L1952.0,1299.19 L1956.2,1299.76 L1960.4,1300.32 L1964.6,1300.86 M1987.4,1303.49 L1991.6,1303.93 L1995.8,1304.35 L2000.1,1304.76 L2004.3,1305.15 L2008.5,1305.52 L2012.8,1305.89 M2036.0,1307.62 L2040.2,1307.89 L2044.5,1308.15 L2048.7,1308.41 L2053.0,1308.64 L2057.2,1308.87 L2061.5,1309.09 M2084.1,1310.05 L2088.3,1310.20 L2092.6,1310.34 L2096.8,1310.47 L2101.1,1310.59 L2105.4,1310.71 L2109.6,1310.81 M2135.7,1311.28 L2139.2,1311.32 L2142.7,1311.36 L2146.2,1311.39 L2149.7,1311.42 L2153.2,1311.45 L2156.7,1311.47 M2184.1,1311.51 L2187.6,1311.51 L2191.1,1311.49 L2194.6,1311.48 L2198.1,1311.47 L2201.6,1311.45 L2205.1,1311.43 M2233.4,1311.21 L2236.9,1311.17 L2240.4,1311.14 L2243.9,1311.11 L2247.4,1311.07 L2250.9,1311.03 L2254.4,1311.00 M2282.4,1310.71 L2285.9,1310.68 L2289.4,1310.65 L2292.9,1310.62 L2296.4,1310.59 L2299.9,1310.56 L2303.4,1310.53 M2331.0,1310.40 L2334.5,1310.39 L2338.0,1310.39 L2341.5,1310.39 L2345.0,1310.39 L2348.5,1310.40 L2352.0,1310.41 M2379.9,1310.63 L2383.4,1310.68 L2386.9,1310.73 L2390.4,1310.79 L2393.9,1310.85 L2397.4,1310.92 L2400.9,1311.00" stroke-width="9.0"/>
</g></g>
<rect x="565.4" y="157.4" width="43.2" height="44.400000000000006" fill="none" stroke="#000" stroke-width="5.0"/>
<rect x="589.4" y="215.4" width="43.2" height="44.400000000000006" fill="none" stroke="#000" stroke-width="5.0"/>
<rect x="617.0" y="228.2" width="43.2" height="44.400000000000006" fill="none" stroke="#000" stroke-width="5.0"/>
<rect x="644.4" y="279.4" width="43.2" height="44.400000000000006" fill="none" stroke="#000" stroke-width="5.0"/>
<rect x="668.4" y="314.0" width="43.2" height="44.400000000000006" fill="none" stroke="#000" stroke-width="5.0"/>
<rect x="695.4" y="377.4" width="43.2" height="44.400000000000006" fill="none" stroke="#000" stroke-width="5.0"/>
<rect x="722.9" y="450.4" width="43.2" height="44.400000000000006" fill="none" stroke="#000" stroke-width="5.0"/>
<rect x="747.4" y="507.9" width="43.2" height="44.400000000000006" fill="none" stroke="#000" stroke-width="5.0"/>
<rect x="813.7" y="651.0" width="43.2" height="44.400000000000006" fill="none" stroke="#000" stroke-width="5.0"/>
<circle cx="587.5" cy="177.0" r="18.8"/>
<circle cx="613.0" cy="196.5" r="18.8"/>
<circle cx="638.0" cy="242.0" r="18.8"/>
<circle cx="666.0" cy="279.0" r="18.8"/>
<circle cx="692.0" cy="329.0" r="18.8"/>
<circle cx="717.8" cy="363.6" r="18.8"/>
<circle cx="748.0" cy="428.0" r="18.8"/>
<circle cx="772.5" cy="452.5" r="18.8"/>
<circle cx="837.8" cy="602.5" r="18.8"/>
<circle cx="904.7" cy="731.8" r="18.8"/>
<circle cx="968.7" cy="841.4" r="18.8"/>
<circle cx="1034.4" cy="956.2" r="18.8"/>
<circle cx="1101.0" cy="1036.8" r="18.8"/>
<circle cx="1165.0" cy="1114.8" r="18.8"/>
<circle cx="1231.2" cy="1188.0" r="18.8"/>
<circle cx="1298.2" cy="1241.8" r="18.8"/>
<circle cx="1428.7" cy="1388.3" r="18.8"/>
<circle cx="1494.6" cy="1439.2" r="18.8"/>
<circle cx="1559.6" cy="1515.3" r="18.8"/>
<path d="M835.4,155.6 L860.4,204.2 L810.4,204.2 Z"/>
<path d="M902.5,155.8 L927.5,204.4 L877.5,204.4 Z"/>
<path d="M965.7,171.3 L990.7,220.0 L940.7,220.0 Z"/>
<path d="M1033.0,155.8 L1058.0,204.4 L1008.0,204.4 Z"/>
<path d="M1163.5,239.0 L1188.5,286.8 L1138.5,286.8 Z"/>
<path d="M1230.0,305.5 L1255.0,354.0 L1205.0,354.0 Z"/>
<path d="M1296.7,464.0 L1321.7,512.5 L1271.7,512.5 Z"/>
<path d="M1427.3,654.2 L1452.3,702.0 L1402.3,702.0 Z"/>
<path d="M1494.0,794.3 L1519.0,842.2 L1469.0,842.2 Z"/>
<path d="M1557.8,969.2 L1582.8,1016.9 L1532.8,1016.9 Z"/>
<path d="M859.3,722.7 L820.8,705.7 L820.8,739.7 Z"/>
<rect x="678.4" y="718.6" width="142.39999999999998" height="8.2"/>
<path d="M1266.4,385 L1305.5,368 L1305.5,402 Z"/>
<rect x="1304.5" y="380.9" width="111.79999999999995" height="8.2"/>
<path d="M1331,1309.4 L1369,1292.4 L1369,1326.4 Z"/>
<rect x="1368" y="1306.8000000000002" width="557" height="5.2"/>
<rect x="318.5" y="31" width="2102.2" height="1649.3" fill="none" stroke="#000" stroke-width="8.4"/>
<text transform="translate(115.15,1670.81) rotate(-90) scale(0.9718,1)" font-size="109.31" stroke="#000" stroke-width="0.5" stroke-linejoin="round">Coverage</text>
<text transform="translate(115.15,1245.71) rotate(-90) scale(1.0263,1)" font-size="109.31" stroke="#000" stroke-width="0.5" stroke-linejoin="round">of</text>
<text transform="translate(115.15,1121.06) rotate(-90) scale(0.9012,1)" font-size="109.31" stroke="#000" stroke-width="0.5" stroke-linejoin="round">the</text>
<text transform="translate(115.15,986.78) rotate(-90) scale(1.0546,1)" font-size="109.31" stroke="#000" stroke-width="0.5" stroke-linejoin="round">NH</text>
<text transform="translate(145.99,832.56) rotate(-90) scale(0.9327,1)" font-size="75.89" stroke="#000" stroke-width="0.5" stroke-linejoin="round">3</text>
<text transform="translate(115.15,772.26) rotate(-90) scale(0.9680,1)" font-size="109.31" stroke="#000" stroke-width="0.5" stroke-linejoin="round">adsorbed</text>
<text transform="translate(115.15,371.70) rotate(-90) scale(0.9679,1)" font-size="109.31" stroke="#000" stroke-width="0.5" stroke-linejoin="round">species</text>
<g filter="url(#fh)"><text transform="translate(228.20,200.00) scale(0.8424,1)" font-size="103.64" stroke="#000" stroke-width="0.2" stroke-linejoin="round">1</text></g>
<g filter="url(#fh)"><text transform="translate(155.94,496.37) scale(1.1531,1)" font-size="102.06" stroke="#000" stroke-width="0.2" stroke-linejoin="round">0.8</text></g>
<g filter="url(#fh)"><text transform="translate(155.94,793.87) scale(1.1544,1)" font-size="102.06" stroke="#000" stroke-width="0.2" stroke-linejoin="round">0.6</text></g>
<g filter="url(#fh)"><text transform="translate(149.97,1087.00) scale(1.2004,1)" font-size="99.85" stroke="#000" stroke-width="0.2" stroke-linejoin="round">0.4</text></g>
<g filter="url(#fh)"><text transform="translate(148.46,1384.38) scale(1.2135,1)" font-size="101.18" stroke="#000" stroke-width="0.2" stroke-linejoin="round">0.2</text></g>
<g filter="url(#fh)"><text transform="translate(210.64,1676.95) scale(1.3209,1)" font-size="95.41" stroke="#000" stroke-width="0.2" stroke-linejoin="round">0</text></g>
<text transform="translate(1395.74,352.07) scale(1.2305,1)" font-size="103.13" stroke="#000" stroke-width="1.2" stroke-linejoin="round">b</text>
<g filter="url(#fh)"><text transform="translate(1393.96,500.50) scale(1.1463,1)" font-size="82.75" stroke="#000" stroke-width="0.2" stroke-linejoin="round">NH</text></g>
<text transform="translate(1529.19,520.90) scale(1.1313,1)" font-size="49.70" font-weight="bold" stroke="#000" stroke-width="0.4" stroke-linejoin="round">3ads-L2</text>
<text transform="translate(613.17,681.20) scale(1.1375,1)" font-size="100.42" font-weight="bold" stroke="#000" stroke-width="0.4" stroke-linejoin="round">a</text>
<g filter="url(#fh)"><text transform="translate(487.67,799.90) scale(1.1591,1)" font-size="81.83" stroke="#000" stroke-width="0.2" stroke-linejoin="round">NH</text></g>
<text transform="translate(622.92,823.11) scale(1.1345,1)" font-size="48.96" font-weight="bold" stroke="#000" stroke-width="0.4" stroke-linejoin="round">3ads-L1</text>
<g filter="url(#fh)"><text transform="translate(1658.38,1154.20) scale(1.1360,1)" font-size="83.05" stroke="#000" stroke-width="0.2" stroke-linejoin="round">NH</text></g>
<text transform="translate(1792.07,1174.71) scale(1.1736,1)" font-size="48.51" font-weight="bold" stroke="#000" stroke-width="0.4" stroke-linejoin="round">3ads-L2</text>
<text transform="translate(1982.23,1157.92) scale(1.1328,1)" font-size="96.14" stroke="#000" stroke-width="1.2" stroke-linejoin="round">+</text>
<g filter="url(#fh)"><text transform="translate(2065.10,1162.50) scale(1.1183,1)" font-size="83.66" stroke="#000" stroke-width="0.2" stroke-linejoin="round">NH</text></g>
<text transform="translate(2198.12,1183.82) scale(1.1497,1)" font-size="48.36" font-weight="bold" stroke="#000" stroke-width="0.4" stroke-linejoin="round">3ads-L1</text>
<text transform="translate(1919.57,1289.51) scale(1.2180,1)" font-size="98.33" font-weight="bold" stroke="#000" stroke-width="0.4" stroke-linejoin="round">c</text>
<g filter="url(#fh)"><text transform="translate(477.74,1766.52) scale(1.2284,1)" font-size="98.07" stroke="#000" stroke-width="0.2" stroke-linejoin="round">300</text></g>
<g filter="url(#fh)"><text transform="translate(1012.25,1766.52) scale(1.2082,1)" font-size="98.07" stroke="#000" stroke-width="0.2" stroke-linejoin="round">500</text></g>
<g filter="url(#fh)"><text transform="translate(1570.77,1766.52) scale(1.2442,1)" font-size="98.07" stroke="#000" stroke-width="0.2" stroke-linejoin="round">700</text></g>
<g filter="url(#fh)"><text transform="translate(2104.30,1766.52) scale(1.2176,1)" font-size="98.07" stroke="#000" stroke-width="0.2" stroke-linejoin="round">900</text></g>
<g filter="url(#fh)"><text transform="translate(875.15,1825.70) scale(1.1984,1)" font-size="100.46" stroke="#000" stroke-width="0.2" stroke-linejoin="round">Temperature (K)</text></g>
</svg>
</body></html>
